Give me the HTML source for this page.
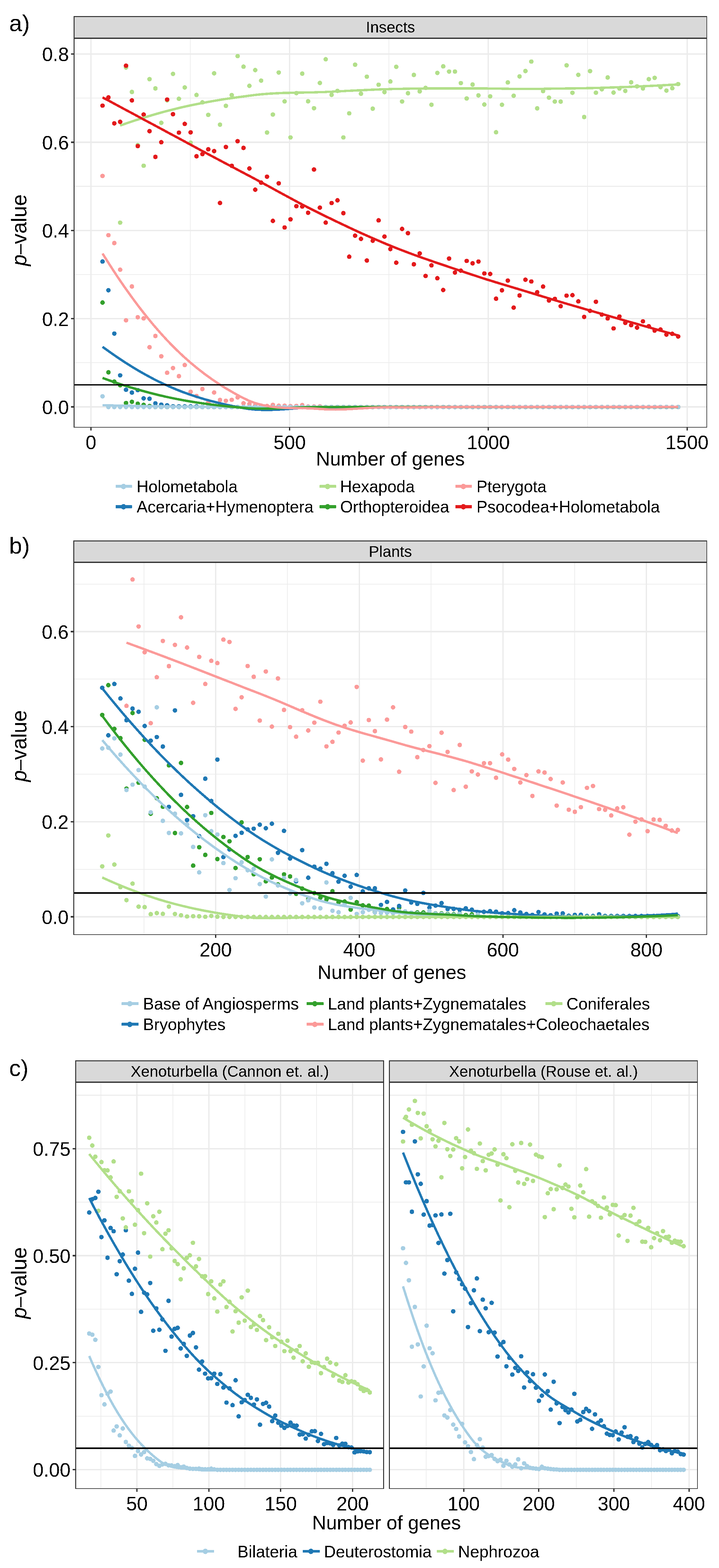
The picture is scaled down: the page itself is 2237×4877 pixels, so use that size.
<!DOCTYPE html>
<html lang="en"><head><meta charset="utf-8"><title>Figure</title>
<style>
html,body{margin:0;padding:0;background:#fff}
svg{display:block}
text{font-family:"Liberation Sans", sans-serif;fill:#000}
</style></head>
<body>
<svg xmlns="http://www.w3.org/2000/svg" width="2237" height="4877" viewBox="0 0 2237 4877" shape-rendering="crispEdges">
<defs><filter id="crisp" x="-5%" y="-5%" width="110%" height="110%" color-interpolation-filters="sRGB"><feComponentTransfer><feFuncA type="discrete" tableValues="0 1"/></feComponentTransfer></filter></defs>
<rect width="2237" height="4877" fill="#fff"/>
<rect x="229.10" y="50.00" width="1970.90" height="70.55" fill="#333333"/>
<rect x="231.90" y="52.60" width="1966.10" height="64.45" fill="#D9D9D9"/>
<rect x="229.10" y="117.05" width="1970.90" height="1212.85" fill="#333333"/>
<rect x="231.90" y="120.55" width="1966.10" height="1207.15" fill="#FFFFFF"/>
<clipPath id="clip_a"><rect x="231.90" y="120.55" width="1966.10" height="1207.15"/></clipPath>
<g clip-path="url(#clip_a)">
<rect x="231.90" y="1127.21" width="1966.10" height="2.20" fill="#EBEBEB"/>
<rect x="231.90" y="852.84" width="1966.10" height="2.20" fill="#EBEBEB"/>
<rect x="231.90" y="578.46" width="1966.10" height="2.20" fill="#EBEBEB"/>
<rect x="231.90" y="304.09" width="1966.10" height="2.20" fill="#EBEBEB"/>
<rect x="591.08" y="120.55" width="2.00" height="1207.15" fill="#EBEBEB"/>
<rect x="1209.25" y="120.55" width="2.00" height="1207.15" fill="#EBEBEB"/>
<rect x="1827.42" y="120.55" width="2.00" height="1207.15" fill="#EBEBEB"/>
<rect x="231.90" y="1263.30" width="1966.10" height="4.40" fill="#EBEBEB"/>
<rect x="231.90" y="988.92" width="1966.10" height="4.40" fill="#EBEBEB"/>
<rect x="231.90" y="714.55" width="1966.10" height="4.40" fill="#EBEBEB"/>
<rect x="231.90" y="440.18" width="1966.10" height="4.40" fill="#EBEBEB"/>
<rect x="231.90" y="165.80" width="1966.10" height="4.40" fill="#EBEBEB"/>
<rect x="281.00" y="120.55" width="4.00" height="1207.15" fill="#EBEBEB"/>
<rect x="899.17" y="120.55" width="4.00" height="1207.15" fill="#EBEBEB"/>
<rect x="1517.33" y="120.55" width="4.00" height="1207.15" fill="#EBEBEB"/>
<rect x="2135.50" y="120.55" width="4.00" height="1207.15" fill="#EBEBEB"/>
<g filter="url(#crisp)" shape-rendering="geometricPrecision">
<g fill="#B2DF8A"><circle cx="373.8" cy="692.5" r="7.05"/><circle cx="392.1" cy="210.1" r="7.05"/><circle cx="410.4" cy="285.9" r="7.05"/><circle cx="428.6" cy="451.2" r="7.05"/><circle cx="446.9" cy="515.5" r="7.05"/><circle cx="465.2" cy="246.3" r="7.05"/><circle cx="483.5" cy="275.1" r="7.05"/><circle cx="501.8" cy="382.0" r="7.05"/><circle cx="520.0" cy="311.9" r="7.05"/><circle cx="538.3" cy="229.7" r="7.05"/><circle cx="556.6" cy="307.2" r="7.05"/><circle cx="574.8" cy="272.0" r="7.05"/><circle cx="593.1" cy="443.7" r="7.05"/><circle cx="611.4" cy="295.4" r="7.05"/><circle cx="629.7" cy="318.4" r="7.05"/><circle cx="648.0" cy="357.3" r="7.05"/><circle cx="666.2" cy="228.0" r="7.05"/><circle cx="684.5" cy="387.7" r="7.05"/><circle cx="702.8" cy="329.2" r="7.05"/><circle cx="721.0" cy="295.7" r="7.05"/><circle cx="739.3" cy="174.5" r="7.05"/><circle cx="757.6" cy="207.4" r="7.05"/><circle cx="775.9" cy="266.9" r="7.05"/><circle cx="794.1" cy="217.9" r="7.05"/><circle cx="812.4" cy="250.7" r="7.05"/><circle cx="830.7" cy="412.2" r="7.05"/><circle cx="849.0" cy="356.3" r="7.05"/><circle cx="867.2" cy="225.6" r="7.05"/><circle cx="885.5" cy="315.3" r="7.05"/><circle cx="903.8" cy="427.5" r="7.05"/><circle cx="922.1" cy="289.6" r="7.05"/><circle cx="940.3" cy="229.0" r="7.05"/><circle cx="958.6" cy="315.0" r="7.05"/><circle cx="976.9" cy="336.6" r="7.05"/><circle cx="995.2" cy="258.1" r="7.05"/><circle cx="1013.4" cy="184.4" r="7.05"/><circle cx="1031.7" cy="295.0" r="7.05"/><circle cx="1050.0" cy="282.8" r="7.05"/><circle cx="1068.3" cy="427.5" r="7.05"/><circle cx="1086.5" cy="352.5" r="7.05"/><circle cx="1104.8" cy="201.3" r="7.05"/><circle cx="1123.1" cy="291.6" r="7.05"/><circle cx="1141.4" cy="238.5" r="7.05"/><circle cx="1159.7" cy="338.0" r="7.05"/><circle cx="1177.9" cy="263.5" r="7.05"/><circle cx="1196.2" cy="286.6" r="7.05"/><circle cx="1214.5" cy="253.4" r="7.05"/><circle cx="1232.8" cy="207.7" r="7.05"/><circle cx="1251.0" cy="315.7" r="7.05"/><circle cx="1269.3" cy="289.9" r="7.05"/><circle cx="1287.6" cy="233.1" r="7.05"/><circle cx="1305.8" cy="284.2" r="7.05"/><circle cx="1324.1" cy="273.4" r="7.05"/><circle cx="1342.4" cy="325.8" r="7.05"/><circle cx="1360.7" cy="226.7" r="7.05"/><circle cx="1378.9" cy="206.4" r="7.05"/><circle cx="1397.2" cy="222.6" r="7.05"/><circle cx="1415.5" cy="222.6" r="7.05"/><circle cx="1433.8" cy="258.5" r="7.05"/><circle cx="1452.0" cy="306.2" r="7.05"/><circle cx="1470.3" cy="262.9" r="7.05"/><circle cx="1488.6" cy="296.7" r="7.05"/><circle cx="1506.9" cy="325.1" r="7.05"/><circle cx="1525.1" cy="299.8" r="7.05"/><circle cx="1543.4" cy="411.4" r="7.05"/><circle cx="1561.7" cy="325.8" r="7.05"/><circle cx="1580.0" cy="256.4" r="7.05"/><circle cx="1598.2" cy="297.7" r="7.05"/><circle cx="1616.5" cy="237.8" r="7.05"/><circle cx="1634.8" cy="220.9" r="7.05"/><circle cx="1653.1" cy="191.5" r="7.05"/><circle cx="1671.3" cy="337.0" r="7.05"/><circle cx="1689.6" cy="283.5" r="7.05"/><circle cx="1707.9" cy="303.8" r="7.05"/><circle cx="1726.2" cy="315.7" r="7.05"/><circle cx="1744.4" cy="316.0" r="7.05"/><circle cx="1762.7" cy="203.3" r="7.05"/><circle cx="1781.0" cy="288.6" r="7.05"/><circle cx="1799.3" cy="232.8" r="7.05"/><circle cx="1817.5" cy="364.1" r="7.05"/><circle cx="1835.8" cy="221.2" r="7.05"/><circle cx="1854.1" cy="288.3" r="7.05"/><circle cx="1872.4" cy="277.8" r="7.05"/><circle cx="1890.6" cy="240.9" r="7.05"/><circle cx="1908.9" cy="287.9" r="7.05"/><circle cx="1927.2" cy="275.4" r="7.05"/><circle cx="1945.5" cy="282.8" r="7.05"/><circle cx="1963.7" cy="256.1" r="7.05"/><circle cx="1982.0" cy="268.6" r="7.05"/><circle cx="2000.3" cy="275.1" r="7.05"/><circle cx="2018.6" cy="246.3" r="7.05"/><circle cx="2036.8" cy="242.2" r="7.05"/><circle cx="2055.1" cy="271.0" r="7.05"/><circle cx="2073.4" cy="281.8" r="7.05"/><circle cx="2091.7" cy="274.4" r="7.05"/><circle cx="2109.9" cy="261.5" r="7.05"/></g>
<g fill="#1F78B4"><circle cx="319.0" cy="813.4" r="7.05"/><circle cx="337.3" cy="902.7" r="7.05"/><circle cx="355.6" cy="1037.6" r="7.05"/><circle cx="373.8" cy="1167.5" r="7.05"/><circle cx="392.1" cy="1212.2" r="7.05"/><circle cx="410.4" cy="1221.0" r="7.05"/><circle cx="428.6" cy="1213.5" r="7.05"/><circle cx="446.9" cy="1239.1" r="7.05"/><circle cx="465.2" cy="1240.2" r="7.05"/><circle cx="483.5" cy="1254.6" r="7.05"/><circle cx="501.8" cy="1258.5" r="7.05"/><circle cx="520.0" cy="1260.8" r="7.05"/><circle cx="538.3" cy="1263.9" r="7.05"/><circle cx="556.6" cy="1264.1" r="7.05"/><circle cx="574.8" cy="1264.1" r="7.05"/><circle cx="593.1" cy="1264.1" r="7.05"/><circle cx="611.4" cy="1264.1" r="7.05"/><circle cx="629.7" cy="1266.1" r="7.05"/><circle cx="648.0" cy="1266.1" r="7.05"/><circle cx="666.2" cy="1266.1" r="7.05"/><circle cx="684.5" cy="1266.1" r="7.05"/><circle cx="702.8" cy="1266.1" r="7.05"/><circle cx="721.0" cy="1266.1" r="7.05"/><circle cx="739.3" cy="1266.1" r="7.05"/><circle cx="757.6" cy="1266.1" r="7.05"/><circle cx="775.9" cy="1266.1" r="7.05"/><circle cx="794.1" cy="1266.1" r="7.05"/><circle cx="812.4" cy="1266.1" r="7.05"/><circle cx="830.7" cy="1266.1" r="7.05"/><circle cx="849.0" cy="1266.1" r="7.05"/><circle cx="867.2" cy="1266.1" r="7.05"/><circle cx="885.5" cy="1266.1" r="7.05"/><circle cx="903.8" cy="1266.1" r="7.05"/><circle cx="922.1" cy="1266.1" r="7.05"/><circle cx="940.3" cy="1266.1" r="7.05"/><circle cx="958.6" cy="1266.1" r="7.05"/><circle cx="976.9" cy="1266.1" r="7.05"/><circle cx="995.2" cy="1266.1" r="7.05"/><circle cx="1013.4" cy="1266.1" r="7.05"/><circle cx="1031.7" cy="1266.1" r="7.05"/><circle cx="1050.0" cy="1266.1" r="7.05"/><circle cx="1068.3" cy="1266.1" r="7.05"/><circle cx="1086.5" cy="1266.1" r="7.05"/><circle cx="1104.8" cy="1266.1" r="7.05"/><circle cx="1123.1" cy="1266.1" r="7.05"/><circle cx="1141.4" cy="1266.1" r="7.05"/><circle cx="1159.7" cy="1266.1" r="7.05"/><circle cx="1177.9" cy="1266.1" r="7.05"/><circle cx="1196.2" cy="1266.1" r="7.05"/><circle cx="1214.5" cy="1266.1" r="7.05"/><circle cx="1232.8" cy="1266.1" r="7.05"/><circle cx="1251.0" cy="1266.1" r="7.05"/><circle cx="1269.3" cy="1266.1" r="7.05"/><circle cx="1287.6" cy="1266.1" r="7.05"/><circle cx="1305.8" cy="1266.1" r="7.05"/><circle cx="1324.1" cy="1266.1" r="7.05"/><circle cx="1342.4" cy="1266.1" r="7.05"/><circle cx="1360.7" cy="1266.1" r="7.05"/><circle cx="1378.9" cy="1266.1" r="7.05"/><circle cx="1397.2" cy="1266.1" r="7.05"/><circle cx="1415.5" cy="1266.1" r="7.05"/><circle cx="1433.8" cy="1266.1" r="7.05"/><circle cx="1452.0" cy="1266.1" r="7.05"/><circle cx="1470.3" cy="1266.1" r="7.05"/><circle cx="1488.6" cy="1266.1" r="7.05"/><circle cx="1506.9" cy="1266.1" r="7.05"/><circle cx="1525.1" cy="1266.1" r="7.05"/><circle cx="1543.4" cy="1266.1" r="7.05"/><circle cx="1561.7" cy="1266.1" r="7.05"/><circle cx="1580.0" cy="1266.1" r="7.05"/><circle cx="1598.2" cy="1266.1" r="7.05"/><circle cx="1616.5" cy="1266.1" r="7.05"/><circle cx="1634.8" cy="1266.1" r="7.05"/><circle cx="1653.1" cy="1266.1" r="7.05"/><circle cx="1671.3" cy="1266.1" r="7.05"/><circle cx="1689.6" cy="1266.1" r="7.05"/><circle cx="1707.9" cy="1266.1" r="7.05"/><circle cx="1726.2" cy="1266.1" r="7.05"/><circle cx="1744.4" cy="1266.1" r="7.05"/><circle cx="1762.7" cy="1266.1" r="7.05"/><circle cx="1781.0" cy="1266.1" r="7.05"/><circle cx="1799.3" cy="1266.1" r="7.05"/><circle cx="1817.5" cy="1266.1" r="7.05"/><circle cx="1835.8" cy="1266.1" r="7.05"/><circle cx="1854.1" cy="1266.1" r="7.05"/><circle cx="1872.4" cy="1266.1" r="7.05"/><circle cx="1890.6" cy="1266.1" r="7.05"/><circle cx="1908.9" cy="1266.1" r="7.05"/><circle cx="1927.2" cy="1266.1" r="7.05"/><circle cx="1945.5" cy="1266.1" r="7.05"/><circle cx="1963.7" cy="1266.1" r="7.05"/><circle cx="1982.0" cy="1266.1" r="7.05"/><circle cx="2000.3" cy="1266.1" r="7.05"/><circle cx="2018.6" cy="1266.1" r="7.05"/><circle cx="2036.8" cy="1266.1" r="7.05"/><circle cx="2055.1" cy="1266.1" r="7.05"/><circle cx="2073.4" cy="1266.1" r="7.05"/><circle cx="2091.7" cy="1266.1" r="7.05"/><circle cx="2109.9" cy="1266.1" r="7.05"/></g>
<g fill="#33A02C"><circle cx="319.0" cy="941.0" r="7.05"/><circle cx="337.3" cy="1158.0" r="7.05"/><circle cx="355.6" cy="1187.1" r="7.05"/><circle cx="373.8" cy="1198.3" r="7.05"/><circle cx="392.1" cy="1253.5" r="7.05"/><circle cx="410.4" cy="1249.7" r="7.05"/><circle cx="428.6" cy="1255.8" r="7.05"/><circle cx="446.9" cy="1259.3" r="7.05"/><circle cx="465.2" cy="1262.8" r="7.05"/><circle cx="483.5" cy="1266.1" r="7.05"/><circle cx="501.8" cy="1266.1" r="7.05"/><circle cx="520.0" cy="1266.1" r="7.05"/><circle cx="538.3" cy="1266.1" r="7.05"/><circle cx="556.6" cy="1266.1" r="7.05"/><circle cx="574.8" cy="1266.1" r="7.05"/><circle cx="593.1" cy="1266.1" r="7.05"/><circle cx="611.4" cy="1266.1" r="7.05"/><circle cx="629.7" cy="1266.1" r="7.05"/><circle cx="648.0" cy="1266.1" r="7.05"/><circle cx="666.2" cy="1266.1" r="7.05"/><circle cx="684.5" cy="1266.1" r="7.05"/><circle cx="702.8" cy="1266.1" r="7.05"/><circle cx="721.0" cy="1266.1" r="7.05"/><circle cx="739.3" cy="1266.1" r="7.05"/><circle cx="757.6" cy="1266.1" r="7.05"/><circle cx="775.9" cy="1266.1" r="7.05"/><circle cx="794.1" cy="1266.1" r="7.05"/><circle cx="812.4" cy="1266.1" r="7.05"/><circle cx="830.7" cy="1266.1" r="7.05"/><circle cx="849.0" cy="1266.1" r="7.05"/><circle cx="867.2" cy="1266.1" r="7.05"/><circle cx="885.5" cy="1266.1" r="7.05"/><circle cx="903.8" cy="1266.1" r="7.05"/><circle cx="922.1" cy="1266.1" r="7.05"/><circle cx="940.3" cy="1266.1" r="7.05"/><circle cx="958.6" cy="1266.1" r="7.05"/><circle cx="976.9" cy="1266.1" r="7.05"/><circle cx="995.2" cy="1266.1" r="7.05"/><circle cx="1013.4" cy="1266.1" r="7.05"/><circle cx="1031.7" cy="1266.1" r="7.05"/><circle cx="1050.0" cy="1266.1" r="7.05"/><circle cx="1068.3" cy="1266.1" r="7.05"/><circle cx="1086.5" cy="1266.1" r="7.05"/><circle cx="1104.8" cy="1266.1" r="7.05"/><circle cx="1123.1" cy="1266.1" r="7.05"/><circle cx="1141.4" cy="1266.1" r="7.05"/><circle cx="1159.7" cy="1266.1" r="7.05"/><circle cx="1177.9" cy="1266.1" r="7.05"/><circle cx="1196.2" cy="1266.1" r="7.05"/><circle cx="1214.5" cy="1266.1" r="7.05"/><circle cx="1232.8" cy="1266.1" r="7.05"/><circle cx="1251.0" cy="1266.1" r="7.05"/><circle cx="1269.3" cy="1266.1" r="7.05"/><circle cx="1287.6" cy="1266.1" r="7.05"/><circle cx="1305.8" cy="1266.1" r="7.05"/><circle cx="1324.1" cy="1266.1" r="7.05"/><circle cx="1342.4" cy="1266.1" r="7.05"/><circle cx="1360.7" cy="1266.1" r="7.05"/><circle cx="1378.9" cy="1266.1" r="7.05"/><circle cx="1397.2" cy="1266.1" r="7.05"/><circle cx="1415.5" cy="1266.1" r="7.05"/><circle cx="1433.8" cy="1266.1" r="7.05"/><circle cx="1452.0" cy="1266.1" r="7.05"/><circle cx="1470.3" cy="1266.1" r="7.05"/><circle cx="1488.6" cy="1266.1" r="7.05"/><circle cx="1506.9" cy="1266.1" r="7.05"/><circle cx="1525.1" cy="1266.1" r="7.05"/><circle cx="1543.4" cy="1266.1" r="7.05"/><circle cx="1561.7" cy="1266.1" r="7.05"/><circle cx="1580.0" cy="1266.1" r="7.05"/><circle cx="1598.2" cy="1266.1" r="7.05"/><circle cx="1616.5" cy="1266.1" r="7.05"/><circle cx="1634.8" cy="1266.1" r="7.05"/><circle cx="1653.1" cy="1266.1" r="7.05"/><circle cx="1671.3" cy="1266.1" r="7.05"/><circle cx="1689.6" cy="1266.1" r="7.05"/><circle cx="1707.9" cy="1266.1" r="7.05"/><circle cx="1726.2" cy="1266.1" r="7.05"/><circle cx="1744.4" cy="1266.1" r="7.05"/><circle cx="1762.7" cy="1266.1" r="7.05"/><circle cx="1781.0" cy="1266.1" r="7.05"/><circle cx="1799.3" cy="1266.1" r="7.05"/><circle cx="1817.5" cy="1266.1" r="7.05"/><circle cx="1835.8" cy="1266.1" r="7.05"/><circle cx="1854.1" cy="1266.1" r="7.05"/><circle cx="1872.4" cy="1266.1" r="7.05"/><circle cx="1890.6" cy="1266.1" r="7.05"/><circle cx="1908.9" cy="1266.1" r="7.05"/><circle cx="1927.2" cy="1266.1" r="7.05"/><circle cx="1945.5" cy="1266.1" r="7.05"/><circle cx="1963.7" cy="1266.1" r="7.05"/><circle cx="1982.0" cy="1266.1" r="7.05"/><circle cx="2000.3" cy="1266.1" r="7.05"/><circle cx="2018.6" cy="1266.1" r="7.05"/><circle cx="2036.8" cy="1266.1" r="7.05"/><circle cx="2055.1" cy="1266.1" r="7.05"/><circle cx="2073.4" cy="1266.1" r="7.05"/><circle cx="2091.7" cy="1266.1" r="7.05"/><circle cx="2109.9" cy="1266.1" r="7.05"/></g>
<g fill="#FB9A99"><circle cx="319.0" cy="547.3" r="7.05"/><circle cx="337.3" cy="731.5" r="7.05"/><circle cx="355.6" cy="755.9" r="7.05"/><circle cx="373.8" cy="838.8" r="7.05"/><circle cx="392.1" cy="996.3" r="7.05"/><circle cx="410.4" cy="890.9" r="7.05"/><circle cx="428.6" cy="986.8" r="7.05"/><circle cx="446.9" cy="990.2" r="7.05"/><circle cx="465.2" cy="1079.9" r="7.05"/><circle cx="483.5" cy="1045.0" r="7.05"/><circle cx="501.8" cy="1108.3" r="7.05"/><circle cx="520.0" cy="1159.4" r="7.05"/><circle cx="538.3" cy="1144.8" r="7.05"/><circle cx="556.6" cy="1169.9" r="7.05"/><circle cx="574.8" cy="1135.4" r="7.05"/><circle cx="593.1" cy="1218.5" r="7.05"/><circle cx="611.4" cy="1231.6" r="7.05"/><circle cx="629.7" cy="1209.9" r="7.05"/><circle cx="648.0" cy="1251.6" r="7.05"/><circle cx="666.2" cy="1220.8" r="7.05"/><circle cx="684.5" cy="1244.1" r="7.05"/><circle cx="702.8" cy="1246.6" r="7.05"/><circle cx="721.0" cy="1243.5" r="7.05"/><circle cx="739.3" cy="1235.9" r="7.05"/><circle cx="757.6" cy="1254.2" r="7.05"/><circle cx="775.9" cy="1256.7" r="7.05"/><circle cx="794.1" cy="1260.8" r="7.05"/><circle cx="812.4" cy="1261.8" r="7.05"/><circle cx="830.7" cy="1262.6" r="7.05"/><circle cx="849.0" cy="1259.3" r="7.05"/><circle cx="867.2" cy="1262.1" r="7.05"/><circle cx="885.5" cy="1262.1" r="7.05"/><circle cx="903.8" cy="1263.3" r="7.05"/><circle cx="922.1" cy="1262.6" r="7.05"/><circle cx="940.3" cy="1260.0" r="7.05"/><circle cx="958.6" cy="1264.4" r="7.05"/><circle cx="976.9" cy="1264.4" r="7.05"/><circle cx="995.2" cy="1263.9" r="7.05"/><circle cx="1013.4" cy="1266.1" r="7.05"/><circle cx="1031.7" cy="1266.1" r="7.05"/><circle cx="1050.0" cy="1266.1" r="7.05"/><circle cx="1068.3" cy="1266.1" r="7.05"/><circle cx="1086.5" cy="1266.1" r="7.05"/><circle cx="1104.8" cy="1266.1" r="7.05"/><circle cx="1123.1" cy="1266.1" r="7.05"/><circle cx="1141.4" cy="1266.1" r="7.05"/><circle cx="1159.7" cy="1266.1" r="7.05"/><circle cx="1177.9" cy="1266.1" r="7.05"/><circle cx="1196.2" cy="1266.1" r="7.05"/><circle cx="1214.5" cy="1266.1" r="7.05"/><circle cx="1232.8" cy="1266.1" r="7.05"/><circle cx="1251.0" cy="1266.1" r="7.05"/><circle cx="1269.3" cy="1266.1" r="7.05"/><circle cx="1287.6" cy="1266.1" r="7.05"/><circle cx="1305.8" cy="1266.1" r="7.05"/><circle cx="1324.1" cy="1266.1" r="7.05"/><circle cx="1342.4" cy="1266.1" r="7.05"/><circle cx="1360.7" cy="1266.1" r="7.05"/><circle cx="1378.9" cy="1266.1" r="7.05"/><circle cx="1397.2" cy="1266.1" r="7.05"/><circle cx="1415.5" cy="1266.1" r="7.05"/><circle cx="1433.8" cy="1266.1" r="7.05"/><circle cx="1452.0" cy="1266.1" r="7.05"/><circle cx="1470.3" cy="1266.1" r="7.05"/><circle cx="1488.6" cy="1266.1" r="7.05"/><circle cx="1506.9" cy="1266.1" r="7.05"/><circle cx="1525.1" cy="1266.1" r="7.05"/><circle cx="1543.4" cy="1266.1" r="7.05"/><circle cx="1561.7" cy="1266.1" r="7.05"/><circle cx="1580.0" cy="1266.1" r="7.05"/><circle cx="1598.2" cy="1266.1" r="7.05"/><circle cx="1616.5" cy="1266.1" r="7.05"/><circle cx="1634.8" cy="1266.1" r="7.05"/><circle cx="1653.1" cy="1266.1" r="7.05"/><circle cx="1671.3" cy="1266.1" r="7.05"/><circle cx="1689.6" cy="1266.1" r="7.05"/><circle cx="1707.9" cy="1266.1" r="7.05"/><circle cx="1726.2" cy="1266.1" r="7.05"/><circle cx="1744.4" cy="1266.1" r="7.05"/><circle cx="1762.7" cy="1266.1" r="7.05"/><circle cx="1781.0" cy="1266.1" r="7.05"/><circle cx="1799.3" cy="1266.1" r="7.05"/><circle cx="1817.5" cy="1266.1" r="7.05"/><circle cx="1835.8" cy="1266.1" r="7.05"/><circle cx="1854.1" cy="1266.1" r="7.05"/><circle cx="1872.4" cy="1266.1" r="7.05"/><circle cx="1890.6" cy="1266.1" r="7.05"/><circle cx="1908.9" cy="1266.1" r="7.05"/><circle cx="1927.2" cy="1266.1" r="7.05"/><circle cx="1945.5" cy="1266.1" r="7.05"/><circle cx="1963.7" cy="1266.1" r="7.05"/><circle cx="1982.0" cy="1266.1" r="7.05"/><circle cx="2000.3" cy="1266.1" r="7.05"/><circle cx="2018.6" cy="1266.1" r="7.05"/><circle cx="2036.8" cy="1266.1" r="7.05"/><circle cx="2055.1" cy="1266.1" r="7.05"/><circle cx="2073.4" cy="1266.1" r="7.05"/><circle cx="2091.7" cy="1266.1" r="7.05"/><circle cx="2109.9" cy="1266.1" r="7.05"/></g>
<g fill="#E31A1C"><circle cx="319.0" cy="328.5" r="7.05"/><circle cx="337.3" cy="303.1" r="7.05"/><circle cx="355.6" cy="383.7" r="7.05"/><circle cx="373.8" cy="378.9" r="7.05"/><circle cx="392.1" cy="204.3" r="7.05"/><circle cx="410.4" cy="312.3" r="7.05"/><circle cx="428.6" cy="454.5" r="7.05"/><circle cx="446.9" cy="356.3" r="7.05"/><circle cx="465.2" cy="407.9" r="7.05"/><circle cx="483.5" cy="488.0" r="7.05"/><circle cx="501.8" cy="442.4" r="7.05"/><circle cx="520.0" cy="309.6" r="7.05"/><circle cx="538.3" cy="355.3" r="7.05"/><circle cx="556.6" cy="412.5" r="7.05"/><circle cx="574.8" cy="385.4" r="7.05"/><circle cx="593.1" cy="411.7" r="7.05"/><circle cx="611.4" cy="486.0" r="7.05"/><circle cx="629.7" cy="479.2" r="7.05"/><circle cx="648.0" cy="464.4" r="7.05"/><circle cx="666.2" cy="470.1" r="7.05"/><circle cx="684.5" cy="631.2" r="7.05"/><circle cx="702.8" cy="457.3" r="7.05"/><circle cx="721.0" cy="515.5" r="7.05"/><circle cx="739.3" cy="439.3" r="7.05"/><circle cx="757.6" cy="460.0" r="7.05"/><circle cx="775.9" cy="523.9" r="7.05"/><circle cx="794.1" cy="589.9" r="7.05"/><circle cx="812.4" cy="567.9" r="7.05"/><circle cx="830.7" cy="549.6" r="7.05"/><circle cx="849.0" cy="687.1" r="7.05"/><circle cx="867.2" cy="570.3" r="7.05"/><circle cx="885.5" cy="707.5" r="7.05"/><circle cx="903.8" cy="682.3" r="7.05"/><circle cx="922.1" cy="641.3" r="7.05"/><circle cx="940.3" cy="642.4" r="7.05"/><circle cx="958.6" cy="661.7" r="7.05"/><circle cx="976.9" cy="527.3" r="7.05"/><circle cx="995.2" cy="645.7" r="7.05"/><circle cx="1013.4" cy="692.4" r="7.05"/><circle cx="1031.7" cy="631.5" r="7.05"/><circle cx="1050.0" cy="623.1" r="7.05"/><circle cx="1068.3" cy="662.9" r="7.05"/><circle cx="1086.5" cy="798.4" r="7.05"/><circle cx="1104.8" cy="733.1" r="7.05"/><circle cx="1123.1" cy="742.9" r="7.05"/><circle cx="1141.4" cy="810.3" r="7.05"/><circle cx="1159.7" cy="748.7" r="7.05"/><circle cx="1177.9" cy="685.4" r="7.05"/><circle cx="1196.2" cy="735.8" r="7.05"/><circle cx="1214.5" cy="774.7" r="7.05"/><circle cx="1232.8" cy="817.0" r="7.05"/><circle cx="1251.0" cy="712.1" r="7.05"/><circle cx="1269.3" cy="725.3" r="7.05"/><circle cx="1287.6" cy="822.1" r="7.05"/><circle cx="1305.8" cy="788.3" r="7.05"/><circle cx="1324.1" cy="858.3" r="7.05"/><circle cx="1342.4" cy="825.2" r="7.05"/><circle cx="1360.7" cy="865.4" r="7.05"/><circle cx="1378.9" cy="902.0" r="7.05"/><circle cx="1397.2" cy="804.2" r="7.05"/><circle cx="1415.5" cy="847.8" r="7.05"/><circle cx="1433.8" cy="841.7" r="7.05"/><circle cx="1452.0" cy="811.5" r="7.05"/><circle cx="1470.3" cy="819.0" r="7.05"/><circle cx="1488.6" cy="813.6" r="7.05"/><circle cx="1506.9" cy="850.5" r="7.05"/><circle cx="1525.1" cy="852.1" r="7.05"/><circle cx="1543.4" cy="929.0" r="7.05"/><circle cx="1561.7" cy="902.9" r="7.05"/><circle cx="1580.0" cy="872.8" r="7.05"/><circle cx="1598.2" cy="956.7" r="7.05"/><circle cx="1616.5" cy="919.1" r="7.05"/><circle cx="1634.8" cy="870.1" r="7.05"/><circle cx="1653.1" cy="875.5" r="7.05"/><circle cx="1671.3" cy="909.0" r="7.05"/><circle cx="1689.6" cy="891.4" r="7.05"/><circle cx="1707.9" cy="934.7" r="7.05"/><circle cx="1726.2" cy="929.6" r="7.05"/><circle cx="1744.4" cy="952.3" r="7.05"/><circle cx="1762.7" cy="919.5" r="7.05"/><circle cx="1781.0" cy="918.1" r="7.05"/><circle cx="1799.3" cy="937.4" r="7.05"/><circle cx="1817.5" cy="985.8" r="7.05"/><circle cx="1835.8" cy="966.7" r="7.05"/><circle cx="1854.1" cy="938.6" r="7.05"/><circle cx="1872.4" cy="978.5" r="7.05"/><circle cx="1890.6" cy="990.4" r="7.05"/><circle cx="1908.9" cy="1021.5" r="7.05"/><circle cx="1927.2" cy="984.6" r="7.05"/><circle cx="1945.5" cy="1004.3" r="7.05"/><circle cx="1963.7" cy="1011.4" r="7.05"/><circle cx="1982.0" cy="1019.1" r="7.05"/><circle cx="2000.3" cy="999.5" r="7.05"/><circle cx="2018.6" cy="1014.7" r="7.05"/><circle cx="2036.8" cy="1028.3" r="7.05"/><circle cx="2055.1" cy="1024.9" r="7.05"/><circle cx="2073.4" cy="1040.8" r="7.05"/><circle cx="2091.7" cy="1038.4" r="7.05"/><circle cx="2109.9" cy="1046.6" r="7.05"/></g>
<g fill="#A6CEE3"><circle cx="319.0" cy="1232.8" r="7.05"/><circle cx="337.3" cy="1266.1" r="7.05"/><circle cx="355.6" cy="1266.1" r="7.05"/><circle cx="373.8" cy="1266.1" r="7.05"/><circle cx="392.1" cy="1266.1" r="7.05"/><circle cx="410.4" cy="1266.1" r="7.05"/><circle cx="428.6" cy="1266.1" r="7.05"/><circle cx="446.9" cy="1266.1" r="7.05"/><circle cx="465.2" cy="1266.1" r="7.05"/><circle cx="483.5" cy="1266.1" r="7.05"/><circle cx="501.8" cy="1266.1" r="7.05"/><circle cx="520.0" cy="1266.1" r="7.05"/><circle cx="538.3" cy="1266.1" r="7.05"/><circle cx="556.6" cy="1266.1" r="7.05"/><circle cx="574.8" cy="1266.1" r="7.05"/><circle cx="593.1" cy="1266.1" r="7.05"/><circle cx="611.4" cy="1266.1" r="7.05"/><circle cx="629.7" cy="1266.1" r="7.05"/><circle cx="648.0" cy="1266.1" r="7.05"/><circle cx="666.2" cy="1266.1" r="7.05"/><circle cx="684.5" cy="1266.1" r="7.05"/><circle cx="702.8" cy="1266.1" r="7.05"/><circle cx="721.0" cy="1266.1" r="7.05"/><circle cx="739.3" cy="1266.1" r="7.05"/><circle cx="757.6" cy="1266.1" r="7.05"/><circle cx="775.9" cy="1266.1" r="7.05"/><circle cx="794.1" cy="1266.1" r="7.05"/><circle cx="812.4" cy="1266.1" r="7.05"/><circle cx="830.7" cy="1266.1" r="7.05"/><circle cx="849.0" cy="1266.1" r="7.05"/><circle cx="867.2" cy="1266.1" r="7.05"/><circle cx="885.5" cy="1266.1" r="7.05"/><circle cx="903.8" cy="1266.1" r="7.05"/><circle cx="922.1" cy="1266.1" r="7.05"/><circle cx="940.3" cy="1266.1" r="7.05"/><circle cx="958.6" cy="1266.1" r="7.05"/><circle cx="976.9" cy="1266.1" r="7.05"/><circle cx="995.2" cy="1266.1" r="7.05"/><circle cx="1013.4" cy="1266.1" r="7.05"/><circle cx="1031.7" cy="1266.1" r="7.05"/><circle cx="1050.0" cy="1266.1" r="7.05"/><circle cx="1068.3" cy="1266.1" r="7.05"/><circle cx="1086.5" cy="1266.1" r="7.05"/><circle cx="1104.8" cy="1266.1" r="7.05"/><circle cx="1123.1" cy="1266.1" r="7.05"/><circle cx="1141.4" cy="1266.1" r="7.05"/><circle cx="1159.7" cy="1266.1" r="7.05"/><circle cx="1177.9" cy="1266.1" r="7.05"/><circle cx="1196.2" cy="1266.1" r="7.05"/><circle cx="1214.5" cy="1266.1" r="7.05"/><circle cx="1232.8" cy="1266.1" r="7.05"/><circle cx="1251.0" cy="1266.1" r="7.05"/><circle cx="1269.3" cy="1266.1" r="7.05"/><circle cx="1287.6" cy="1266.1" r="7.05"/><circle cx="1305.8" cy="1266.1" r="7.05"/><circle cx="1324.1" cy="1266.1" r="7.05"/><circle cx="1342.4" cy="1266.1" r="7.05"/><circle cx="1360.7" cy="1266.1" r="7.05"/><circle cx="1378.9" cy="1266.1" r="7.05"/><circle cx="1397.2" cy="1266.1" r="7.05"/><circle cx="1415.5" cy="1266.1" r="7.05"/><circle cx="1433.8" cy="1266.1" r="7.05"/><circle cx="1452.0" cy="1266.1" r="7.05"/><circle cx="1470.3" cy="1266.1" r="7.05"/><circle cx="1488.6" cy="1266.1" r="7.05"/><circle cx="1506.9" cy="1266.1" r="7.05"/><circle cx="1525.1" cy="1266.1" r="7.05"/><circle cx="1543.4" cy="1266.1" r="7.05"/><circle cx="1561.7" cy="1266.1" r="7.05"/><circle cx="1580.0" cy="1266.1" r="7.05"/><circle cx="1598.2" cy="1266.1" r="7.05"/><circle cx="1616.5" cy="1266.1" r="7.05"/><circle cx="1634.8" cy="1266.1" r="7.05"/><circle cx="1653.1" cy="1266.1" r="7.05"/><circle cx="1671.3" cy="1266.1" r="7.05"/><circle cx="1689.6" cy="1266.1" r="7.05"/><circle cx="1707.9" cy="1266.1" r="7.05"/><circle cx="1726.2" cy="1266.1" r="7.05"/><circle cx="1744.4" cy="1266.1" r="7.05"/><circle cx="1762.7" cy="1266.1" r="7.05"/><circle cx="1781.0" cy="1266.1" r="7.05"/><circle cx="1799.3" cy="1266.1" r="7.05"/><circle cx="1817.5" cy="1266.1" r="7.05"/><circle cx="1835.8" cy="1266.1" r="7.05"/><circle cx="1854.1" cy="1266.1" r="7.05"/><circle cx="1872.4" cy="1266.1" r="7.05"/><circle cx="1890.6" cy="1266.1" r="7.05"/><circle cx="1908.9" cy="1266.1" r="7.05"/><circle cx="1927.2" cy="1266.1" r="7.05"/><circle cx="1945.5" cy="1266.1" r="7.05"/><circle cx="1963.7" cy="1266.1" r="7.05"/><circle cx="1982.0" cy="1266.1" r="7.05"/><circle cx="2000.3" cy="1266.1" r="7.05"/><circle cx="2018.6" cy="1266.1" r="7.05"/><circle cx="2036.8" cy="1266.1" r="7.05"/><circle cx="2055.1" cy="1266.1" r="7.05"/><circle cx="2073.4" cy="1266.1" r="7.05"/><circle cx="2091.7" cy="1266.1" r="7.05"/><circle cx="2109.9" cy="1266.1" r="7.05"/></g>
<polyline fill="none" stroke="#A6CEE3" stroke-width="7.4" stroke-linejoin="round" points="319.0,1260.5 341.7,1261.0 364.3,1261.4 387.0,1261.9 409.7,1262.3 432.3,1262.7 455.0,1263.1 477.7,1263.4 500.4,1263.8 523.0,1264.1 545.7,1264.3 568.4,1264.6 591.0,1264.8 613.7,1265.0 636.4,1265.2 659.0,1265.4 681.7,1265.5 704.4,1265.7 727.1,1265.8 749.7,1265.9 772.4,1266.0 795.1,1266.0 817.7,1266.1 840.4,1266.0 863.1,1266.0 885.7,1265.9 908.4,1265.9 931.1,1265.8 953.7,1265.7 976.4,1265.7 999.1,1265.7 1021.8,1265.7 1044.4,1265.7 1067.1,1265.7 1089.8,1265.7 1112.4,1265.7 1135.1,1265.7 1157.8,1265.7 1180.4,1265.7 1203.1,1265.7 1225.8,1265.7 1248.5,1265.7 1271.1,1265.7 1293.8,1265.7 1316.5,1265.7 1339.1,1265.7 1361.8,1265.7 1384.5,1265.7 1407.1,1265.7 1429.8,1265.7 1452.5,1265.7 1475.2,1265.7 1497.8,1265.7 1520.5,1265.7 1543.2,1265.7 1565.8,1265.7 1588.5,1265.7 1611.2,1265.7 1633.8,1265.7 1656.5,1265.7 1679.2,1265.7 1701.8,1265.7 1724.5,1265.7 1747.2,1265.7 1769.9,1265.7 1792.5,1265.7 1815.2,1265.7 1837.9,1265.7 1860.5,1265.7 1883.2,1265.7 1905.9,1265.7 1928.5,1265.7 1951.2,1265.7 1973.9,1265.7 1996.6,1265.7 2019.2,1265.7 2041.9,1265.7 2064.6,1265.7 2087.2,1265.7 2109.9,1265.7"/>
<polyline fill="none" stroke="#1F78B4" stroke-width="7.4" stroke-linejoin="round" points="319.0,1078.7 341.7,1095.1 364.3,1110.8 387.0,1125.9 409.7,1140.2 432.3,1153.8 455.0,1166.6 477.7,1178.7 500.4,1190.0 523.0,1200.5 545.7,1210.2 568.4,1219.2 591.0,1227.3 613.7,1234.8 636.4,1241.7 659.0,1247.9 681.7,1253.6 704.4,1258.8 727.1,1263.6 749.7,1268.0 772.4,1271.8 795.1,1274.1 817.7,1275.1 840.4,1275.0 863.1,1274.2 885.7,1272.8 908.4,1271.1 931.1,1269.4 953.7,1267.9 976.4,1267.0 999.1,1266.7 1021.8,1266.8 1044.4,1266.7 1067.1,1266.6 1089.8,1266.5 1112.4,1266.3 1135.1,1266.1 1157.8,1265.9 1180.4,1265.8 1203.1,1265.7 1225.8,1265.7 1248.5,1265.7 1271.1,1265.7 1293.8,1265.7 1316.5,1265.7 1339.1,1265.7 1361.8,1265.7 1384.5,1265.7 1407.1,1265.7 1429.8,1265.7 1452.5,1265.7 1475.2,1265.7 1497.8,1265.7 1520.5,1265.7 1543.2,1265.7 1565.8,1265.7 1588.5,1265.7 1611.2,1265.7 1633.8,1265.7 1656.5,1265.7 1679.2,1265.7 1701.8,1265.7 1724.5,1265.7 1747.2,1265.7 1769.9,1265.7 1792.5,1265.7 1815.2,1265.7 1837.9,1265.7 1860.5,1265.7 1883.2,1265.7 1905.9,1265.7 1928.5,1265.7 1951.2,1265.7 1973.9,1265.7 1996.6,1265.7 2019.2,1265.7 2041.9,1265.7 2064.6,1265.7 2087.2,1265.7 2109.9,1265.7"/>
<polyline fill="none" stroke="#B2DF8A" stroke-width="7.4" stroke-linejoin="round" points="373.8,390.5 395.8,382.8 417.8,375.4 439.7,368.3 461.7,361.6 483.7,355.1 505.7,348.9 527.6,343.1 549.6,337.6 571.6,332.4 593.6,327.6 615.5,323.1 637.5,318.8 659.5,314.9 681.5,311.2 703.4,307.7 725.4,304.5 747.4,301.4 769.4,298.5 791.3,295.7 813.3,293.3 835.3,291.5 857.3,290.2 879.2,289.3 901.2,288.7 923.2,288.2 945.2,287.9 967.2,287.5 989.1,286.9 1011.1,286.1 1033.1,285.1 1055.1,284.0 1077.0,282.9 1099.0,281.8 1121.0,280.7 1143.0,279.7 1164.9,278.7 1186.9,277.9 1208.9,277.1 1230.9,276.6 1252.8,276.1 1274.8,275.8 1296.8,275.5 1318.8,275.3 1340.7,275.1 1362.7,275.0 1384.7,275.0 1406.7,274.9 1428.6,274.9 1450.6,274.8 1472.6,274.8 1494.6,275.0 1516.5,275.2 1538.5,275.5 1560.5,275.9 1582.5,276.2 1604.5,276.4 1626.4,276.6 1648.4,276.6 1670.4,276.4 1692.4,276.2 1714.3,275.9 1736.3,275.6 1758.3,275.3 1780.3,275.0 1802.2,274.6 1824.2,274.2 1846.2,273.7 1868.2,273.2 1890.1,272.5 1912.1,271.8 1934.1,271.0 1956.1,270.2 1978.0,269.3 2000.0,268.3 2022.0,267.3 2044.0,266.2 2065.9,265.0 2087.9,263.8 2109.9,262.6"/>
<polyline fill="none" stroke="#33A02C" stroke-width="7.4" stroke-linejoin="round" points="319.0,1175.6 341.7,1183.7 364.3,1191.5 387.0,1198.9 409.7,1205.9 432.3,1212.6 455.0,1218.9 477.7,1224.8 500.4,1230.4 523.0,1235.5 545.7,1240.2 568.4,1244.6 591.0,1248.5 613.7,1252.1 636.4,1255.4 659.0,1258.3 681.7,1261.1 704.4,1263.5 727.1,1265.8 749.7,1267.8 772.4,1269.6 795.1,1270.6 817.7,1271.0 840.4,1270.8 863.1,1270.2 885.7,1269.4 908.4,1268.4 931.1,1267.4 953.7,1266.6 976.4,1266.1 999.1,1265.9 1021.8,1265.9 1044.4,1265.9 1067.1,1265.9 1089.8,1265.9 1112.4,1265.8 1135.1,1265.8 1157.8,1265.7 1180.4,1265.7 1203.1,1265.7 1225.8,1265.7 1248.5,1265.7 1271.1,1265.7 1293.8,1265.7 1316.5,1265.7 1339.1,1265.7 1361.8,1265.7 1384.5,1265.7 1407.1,1265.7 1429.8,1265.7 1452.5,1265.7 1475.2,1265.7 1497.8,1265.7 1520.5,1265.7 1543.2,1265.7 1565.8,1265.7 1588.5,1265.7 1611.2,1265.7 1633.8,1265.7 1656.5,1265.7 1679.2,1265.7 1701.8,1265.7 1724.5,1265.7 1747.2,1265.7 1769.9,1265.7 1792.5,1265.7 1815.2,1265.7 1837.9,1265.7 1860.5,1265.7 1883.2,1265.7 1905.9,1265.7 1928.5,1265.7 1951.2,1265.7 1973.9,1265.7 1996.6,1265.7 2019.2,1265.7 2041.9,1265.7 2064.6,1265.7 2087.2,1265.7 2109.9,1265.7"/>
<polyline fill="none" stroke="#FB9A99" stroke-width="7.4" stroke-linejoin="round" points="319.0,788.4 341.7,824.3 364.3,858.9 387.0,892.1 409.7,923.9 432.3,954.4 455.0,983.4 477.7,1011.0 500.4,1037.1 523.0,1061.7 545.7,1084.8 568.4,1106.4 591.0,1126.6 613.7,1145.4 636.4,1163.0 659.0,1179.3 681.7,1194.6 704.4,1208.8 727.1,1222.0 749.7,1234.4 772.4,1245.6 795.1,1254.1 817.7,1260.2 840.4,1264.4 863.1,1267.1 885.7,1268.5 908.4,1269.3 931.1,1269.6 953.7,1269.9 976.4,1270.7 999.1,1272.3 1021.8,1273.5 1044.4,1273.8 1067.1,1273.3 1089.8,1272.3 1112.4,1270.9 1135.1,1269.5 1157.8,1268.1 1180.4,1267.1 1203.1,1266.6 1225.8,1266.7 1248.5,1266.9 1271.1,1266.9 1293.8,1266.8 1316.5,1266.7 1339.1,1266.5 1361.8,1266.3 1384.5,1266.1 1407.1,1266.0 1429.8,1265.9 1452.5,1265.8 1475.2,1265.9 1497.8,1265.9 1520.5,1265.9 1543.2,1265.9 1565.8,1265.8 1588.5,1265.8 1611.2,1265.8 1633.8,1265.8 1656.5,1265.8 1679.2,1265.8 1701.8,1265.8 1724.5,1265.8 1747.2,1265.8 1769.9,1265.8 1792.5,1265.8 1815.2,1265.8 1837.9,1265.8 1860.5,1265.8 1883.2,1265.7 1905.9,1265.7 1928.5,1265.7 1951.2,1265.7 1973.9,1265.7 1996.6,1265.7 2019.2,1265.7 2041.9,1265.7 2064.6,1265.6 2087.2,1265.6 2109.9,1265.6"/>
<polyline fill="none" stroke="#E31A1C" stroke-width="7.4" stroke-linejoin="round" points="319.0,302.9 341.7,315.1 364.3,327.2 387.0,339.4 409.7,351.6 432.3,363.7 455.0,375.9 477.7,388.0 500.4,400.2 523.0,412.4 545.7,424.6 568.4,436.8 591.0,449.0 613.7,461.2 636.4,473.4 659.0,485.5 681.7,497.6 704.4,509.6 727.1,521.6 749.7,533.5 772.4,545.4 795.1,557.5 817.7,569.7 840.4,582.1 863.1,594.4 885.7,606.8 908.4,619.1 931.1,631.2 953.7,643.0 976.4,654.6 999.1,665.9 1021.8,676.9 1044.4,687.9 1067.1,698.7 1089.8,709.3 1112.4,719.8 1135.1,730.1 1157.8,740.1 1180.4,749.9 1203.1,759.5 1225.8,768.7 1248.5,777.6 1271.1,786.2 1293.8,794.6 1316.5,802.7 1339.1,810.6 1361.8,818.4 1384.5,826.1 1407.1,833.8 1429.8,841.4 1452.5,849.1 1475.2,856.6 1497.8,863.9 1520.5,871.1 1543.2,878.1 1565.8,885.0 1588.5,891.8 1611.2,898.6 1633.8,905.5 1656.5,912.4 1679.2,919.4 1701.8,926.3 1724.5,933.2 1747.2,940.0 1769.9,946.7 1792.5,953.3 1815.2,959.9 1837.9,966.5 1860.5,973.0 1883.2,979.5 1905.9,986.0 1928.5,992.5 1951.2,999.0 1973.9,1005.4 1996.6,1011.9 2019.2,1018.3 2041.9,1024.6 2064.6,1031.0 2087.2,1037.3 2109.9,1043.6"/>
</g>
<rect x="231.90" y="1194.56" width="1966.10" height="4.70" fill="#000000"/>
</g>
<rect x="281.00" y="1329.90" width="4.00" height="9.00" fill="#333333"/>
<rect x="899.17" y="1329.90" width="4.00" height="9.00" fill="#333333"/>
<rect x="1517.33" y="1329.90" width="4.00" height="9.00" fill="#333333"/>
<rect x="2135.50" y="1329.90" width="4.00" height="9.00" fill="#333333"/>
<rect x="221.00" y="1263.30" width="8.10" height="4.40" fill="#333333"/>
<rect x="221.00" y="988.92" width="8.10" height="4.40" fill="#333333"/>
<rect x="221.00" y="714.55" width="8.10" height="4.40" fill="#333333"/>
<rect x="221.00" y="440.18" width="8.10" height="4.40" fill="#333333"/>
<rect x="221.00" y="165.80" width="8.10" height="4.40" fill="#333333"/>
<g filter="url(#crisp)" shape-rendering="geometricPrecision">
<rect x="359.60" y="1508.40" width="51.00" height="9.00" fill="#A6CEE3"/>
<ellipse cx="384.30" cy="1513.20" rx="7.9" ry="8.5" fill="#A6CEE3"/>
</g>
<g filter="url(#crisp)" shape-rendering="geometricPrecision">
<rect x="359.60" y="1571.50" width="51.00" height="9.00" fill="#1F78B4"/>
<ellipse cx="384.30" cy="1576.30" rx="7.9" ry="8.5" fill="#1F78B4"/>
</g>
<g filter="url(#crisp)" shape-rendering="geometricPrecision">
<rect x="994.50" y="1508.40" width="51.00" height="9.00" fill="#B2DF8A"/>
<ellipse cx="1019.20" cy="1513.20" rx="7.9" ry="8.5" fill="#B2DF8A"/>
</g>
<g filter="url(#crisp)" shape-rendering="geometricPrecision">
<rect x="994.50" y="1571.50" width="51.00" height="9.00" fill="#33A02C"/>
<ellipse cx="1019.20" cy="1576.30" rx="7.9" ry="8.5" fill="#33A02C"/>
</g>
<g filter="url(#crisp)" shape-rendering="geometricPrecision">
<rect x="1417.00" y="1508.40" width="51.00" height="9.00" fill="#FB9A99"/>
<ellipse cx="1441.70" cy="1513.20" rx="7.9" ry="8.5" fill="#FB9A99"/>
</g>
<g filter="url(#crisp)" shape-rendering="geometricPrecision">
<rect x="1417.00" y="1571.50" width="51.00" height="9.00" fill="#E31A1C"/>
<ellipse cx="1441.70" cy="1576.30" rx="7.9" ry="8.5" fill="#E31A1C"/>
</g>
<g filter="url(#crisp)">
<text x="28.60" y="96.80" font-size="72" text-anchor="start" >a)</text>
<text transform="translate(1215.05,101.40) scale(0.985,1)" font-size="49" text-anchor="middle" >Insects</text>
<text transform="translate(283.00,1396.50) scale(0.97,1)" font-size="62" text-anchor="middle" >0</text>
<text transform="translate(901.17,1396.50) scale(0.97,1)" font-size="62" text-anchor="middle" >500</text>
<text transform="translate(1519.33,1396.50) scale(0.97,1)" font-size="62" text-anchor="middle" >1000</text>
<text transform="translate(2137.50,1396.50) scale(0.97,1)" font-size="62" text-anchor="middle" >1500</text>
<text transform="translate(214.50,1287.90) scale(0.97,1)" font-size="62" text-anchor="end" >0.0</text>
<text transform="translate(214.50,1013.52) scale(0.97,1)" font-size="62" text-anchor="end" >0.2</text>
<text transform="translate(214.50,739.15) scale(0.97,1)" font-size="62" text-anchor="end" >0.4</text>
<text transform="translate(214.50,464.77) scale(0.97,1)" font-size="62" text-anchor="end" >0.6</text>
<text transform="translate(214.50,190.40) scale(0.97,1)" font-size="62" text-anchor="end" >0.8</text>
<text transform="translate(82.20,715.90) rotate(-90) scale(0.98,1)" font-size="66" text-anchor="middle"><tspan font-style="italic">p</tspan><tspan textLength="33" lengthAdjust="spacingAndGlyphs">–</tspan><tspan>value</tspan></text>
<text transform="translate(1214.60,1448.00) scale(0.989,1)" font-size="61" text-anchor="middle" >Number of genes</text>
<text x="425.20" y="1531.20" font-size="50.9" text-anchor="start" >Holometabola</text>
<text x="425.20" y="1594.30" font-size="50.9" text-anchor="start" >Acercaria+Hymenoptera</text>
<text x="1058.20" y="1531.20" font-size="50.9" text-anchor="start" >Hexapoda</text>
<text x="1058.20" y="1594.30" font-size="50.9" text-anchor="start" >Orthopteroidea</text>
<text x="1482.60" y="1531.20" font-size="50.9" text-anchor="start" >Pterygota</text>
<text x="1482.60" y="1594.30" font-size="50.9" text-anchor="start" >Psocodea+Holometabola</text>
</g>
<rect x="228.10" y="1681.00" width="1972.00" height="69.65" fill="#333333"/>
<rect x="230.90" y="1683.60" width="1967.20" height="63.55" fill="#D9D9D9"/>
<rect x="228.10" y="1747.15" width="1972.00" height="1160.85" fill="#333333"/>
<rect x="230.90" y="1750.65" width="1967.20" height="1155.15" fill="#FFFFFF"/>
<clipPath id="clip_b"><rect x="230.90" y="1750.65" width="1967.20" height="1155.15"/></clipPath>
<g clip-path="url(#clip_b)">
<rect x="230.90" y="2702.57" width="1967.20" height="2.20" fill="#EBEBEB"/>
<rect x="230.90" y="2406.90" width="1967.20" height="2.20" fill="#EBEBEB"/>
<rect x="230.90" y="2111.23" width="1967.20" height="2.20" fill="#EBEBEB"/>
<rect x="230.90" y="1815.57" width="1967.20" height="2.20" fill="#EBEBEB"/>
<rect x="446.73" y="1750.65" width="2.00" height="1155.15" fill="#EBEBEB"/>
<rect x="893.47" y="1750.65" width="2.00" height="1155.15" fill="#EBEBEB"/>
<rect x="1340.20" y="1750.65" width="2.00" height="1155.15" fill="#EBEBEB"/>
<rect x="1786.93" y="1750.65" width="2.00" height="1155.15" fill="#EBEBEB"/>
<rect x="230.90" y="2849.30" width="1967.20" height="4.40" fill="#EBEBEB"/>
<rect x="230.90" y="2553.63" width="1967.20" height="4.40" fill="#EBEBEB"/>
<rect x="230.90" y="2257.97" width="1967.20" height="4.40" fill="#EBEBEB"/>
<rect x="230.90" y="1962.30" width="1967.20" height="4.40" fill="#EBEBEB"/>
<rect x="669.10" y="1750.65" width="4.00" height="1155.15" fill="#EBEBEB"/>
<rect x="1115.83" y="1750.65" width="4.00" height="1155.15" fill="#EBEBEB"/>
<rect x="1562.57" y="1750.65" width="4.00" height="1155.15" fill="#EBEBEB"/>
<rect x="2009.30" y="1750.65" width="4.00" height="1155.15" fill="#EBEBEB"/>
<g filter="url(#crisp)" shape-rendering="geometricPrecision">
<g fill="#FB9A99"><circle cx="393.5" cy="2195.4" r="7.05"/><circle cx="412.4" cy="1802.4" r="7.05"/><circle cx="431.2" cy="1948.6" r="7.05"/><circle cx="450.1" cy="2028.8" r="7.05"/><circle cx="468.9" cy="2249.2" r="7.05"/><circle cx="487.8" cy="2106.4" r="7.05"/><circle cx="506.6" cy="1993.6" r="7.05"/><circle cx="525.5" cy="2071.9" r="7.05"/><circle cx="544.3" cy="2005.7" r="7.05"/><circle cx="563.2" cy="1920.1" r="7.05"/><circle cx="582.0" cy="2013.9" r="7.05"/><circle cx="600.9" cy="2185.9" r="7.05"/><circle cx="619.7" cy="2043.2" r="7.05"/><circle cx="638.6" cy="2127.4" r="7.05"/><circle cx="657.4" cy="2055.4" r="7.05"/><circle cx="676.3" cy="2062.4" r="7.05"/><circle cx="695.1" cy="1989.4" r="7.05"/><circle cx="714.0" cy="1996.8" r="7.05"/><circle cx="732.8" cy="2204.8" r="7.05"/><circle cx="751.7" cy="2168.8" r="7.05"/><circle cx="770.5" cy="2071.6" r="7.05"/><circle cx="789.4" cy="2105.1" r="7.05"/><circle cx="808.2" cy="2241.3" r="7.05"/><circle cx="827.1" cy="2088.6" r="7.05"/><circle cx="845.9" cy="2259.9" r="7.05"/><circle cx="864.8" cy="2110.2" r="7.05"/><circle cx="883.6" cy="2208.1" r="7.05"/><circle cx="902.5" cy="2261.6" r="7.05"/><circle cx="921.3" cy="2291.4" r="7.05"/><circle cx="940.2" cy="2209.2" r="7.05"/><circle cx="959.0" cy="2272.1" r="7.05"/><circle cx="977.9" cy="2247.7" r="7.05"/><circle cx="996.7" cy="2182.5" r="7.05"/><circle cx="1015.6" cy="2321.5" r="7.05"/><circle cx="1034.4" cy="2307.3" r="7.05"/><circle cx="1053.3" cy="2278.5" r="7.05"/><circle cx="1072.1" cy="2257.2" r="7.05"/><circle cx="1091.0" cy="2247.1" r="7.05"/><circle cx="1109.8" cy="2136.6" r="7.05"/><circle cx="1128.7" cy="2365.8" r="7.05"/><circle cx="1147.5" cy="2239.6" r="7.05"/><circle cx="1166.4" cy="2274.1" r="7.05"/><circle cx="1185.2" cy="2362.1" r="7.05"/><circle cx="1204.1" cy="2238.3" r="7.05"/><circle cx="1222.9" cy="2200.0" r="7.05"/><circle cx="1241.8" cy="2400.4" r="7.05"/><circle cx="1260.7" cy="2261.3" r="7.05"/><circle cx="1279.5" cy="2275.5" r="7.05"/><circle cx="1298.4" cy="2355.0" r="7.05"/><circle cx="1317.2" cy="2332.7" r="7.05"/><circle cx="1336.1" cy="2320.8" r="7.05"/><circle cx="1354.9" cy="2434.9" r="7.05"/><circle cx="1373.8" cy="2278.9" r="7.05"/><circle cx="1392.6" cy="2338.8" r="7.05"/><circle cx="1411.5" cy="2457.2" r="7.05"/><circle cx="1430.3" cy="2317.0" r="7.05"/><circle cx="1449.2" cy="2446.9" r="7.05"/><circle cx="1468.0" cy="2399.2" r="7.05"/><circle cx="1486.9" cy="2409.0" r="7.05"/><circle cx="1505.7" cy="2373.8" r="7.05"/><circle cx="1524.6" cy="2373.8" r="7.05"/><circle cx="1543.4" cy="2419.1" r="7.05"/><circle cx="1562.3" cy="2346.4" r="7.05"/><circle cx="1581.1" cy="2362.6" r="7.05"/><circle cx="1600.0" cy="2391.7" r="7.05"/><circle cx="1618.8" cy="2433.7" r="7.05"/><circle cx="1637.7" cy="2410.7" r="7.05"/><circle cx="1656.5" cy="2475.7" r="7.05"/><circle cx="1675.4" cy="2399.2" r="7.05"/><circle cx="1694.2" cy="2402.9" r="7.05"/><circle cx="1713.1" cy="2422.9" r="7.05"/><circle cx="1731.9" cy="2505.8" r="7.05"/><circle cx="1750.8" cy="2433.7" r="7.05"/><circle cx="1769.6" cy="2518.6" r="7.05"/><circle cx="1788.5" cy="2525.1" r="7.05"/><circle cx="1807.3" cy="2510.5" r="7.05"/><circle cx="1826.2" cy="2450.5" r="7.05"/><circle cx="1845.0" cy="2444.7" r="7.05"/><circle cx="1863.9" cy="2516.5" r="7.05"/><circle cx="1882.7" cy="2518.8" r="7.05"/><circle cx="1901.6" cy="2536.4" r="7.05"/><circle cx="1920.4" cy="2514.4" r="7.05"/><circle cx="1939.3" cy="2510.7" r="7.05"/><circle cx="1958.1" cy="2596.0" r="7.05"/><circle cx="1977.0" cy="2555.7" r="7.05"/><circle cx="1995.8" cy="2548.6" r="7.05"/><circle cx="2014.7" cy="2585.2" r="7.05"/><circle cx="2033.5" cy="2549.0" r="7.05"/><circle cx="2052.4" cy="2550.0" r="7.05"/><circle cx="2071.2" cy="2568.6" r="7.05"/><circle cx="2090.1" cy="2583.1" r="7.05"/><circle cx="2108.9" cy="2581.4" r="7.05"/></g>
<g fill="#33A02C"><circle cx="318.1" cy="2223.8" r="7.05"/><circle cx="337.0" cy="2131.1" r="7.05"/><circle cx="355.8" cy="2267.1" r="7.05"/><circle cx="374.7" cy="2295.9" r="7.05"/><circle cx="393.5" cy="2453.1" r="7.05"/><circle cx="412.4" cy="2217.7" r="7.05"/><circle cx="431.2" cy="2434.4" r="7.05"/><circle cx="450.1" cy="2301.0" r="7.05"/><circle cx="468.9" cy="2530.9" r="7.05"/><circle cx="487.8" cy="2482.8" r="7.05"/><circle cx="506.6" cy="2509.2" r="7.05"/><circle cx="525.5" cy="2380.6" r="7.05"/><circle cx="544.3" cy="2591.1" r="7.05"/><circle cx="563.2" cy="2372.9" r="7.05"/><circle cx="582.0" cy="2509.9" r="7.05"/><circle cx="600.9" cy="2692.4" r="7.05"/><circle cx="619.7" cy="2635.3" r="7.05"/><circle cx="638.6" cy="2658.9" r="7.05"/><circle cx="657.4" cy="2528.5" r="7.05"/><circle cx="676.3" cy="2672.0" r="7.05"/><circle cx="695.1" cy="2603.2" r="7.05"/><circle cx="714.0" cy="2616.7" r="7.05"/><circle cx="732.8" cy="2699.7" r="7.05"/><circle cx="751.7" cy="2557.9" r="7.05"/><circle cx="770.5" cy="2665.8" r="7.05"/><circle cx="789.4" cy="2719.3" r="7.05"/><circle cx="808.2" cy="2672.6" r="7.05"/><circle cx="827.1" cy="2741.3" r="7.05"/><circle cx="845.9" cy="2729.4" r="7.05"/><circle cx="864.8" cy="2750.8" r="7.05"/><circle cx="883.6" cy="2719.6" r="7.05"/><circle cx="902.5" cy="2726.1" r="7.05"/><circle cx="921.3" cy="2780.1" r="7.05"/><circle cx="940.2" cy="2763.9" r="7.05"/><circle cx="959.0" cy="2796.4" r="7.05"/><circle cx="977.9" cy="2777.8" r="7.05"/><circle cx="996.7" cy="2792.3" r="7.05"/><circle cx="1015.6" cy="2798.1" r="7.05"/><circle cx="1034.4" cy="2772.0" r="7.05"/><circle cx="1053.3" cy="2806.4" r="7.05"/><circle cx="1072.1" cy="2804.0" r="7.05"/><circle cx="1091.0" cy="2829.2" r="7.05"/><circle cx="1109.8" cy="2806.1" r="7.05"/><circle cx="1128.7" cy="2815.9" r="7.05"/><circle cx="1147.5" cy="2816.8" r="7.05"/><circle cx="1166.4" cy="2837.2" r="7.05"/><circle cx="1185.2" cy="2829.7" r="7.05"/><circle cx="1204.1" cy="2827.4" r="7.05"/><circle cx="1222.9" cy="2835.4" r="7.05"/><circle cx="1241.8" cy="2823.0" r="7.05"/><circle cx="1260.7" cy="2838.1" r="7.05"/><circle cx="1279.5" cy="2839.0" r="7.05"/><circle cx="1298.4" cy="2838.1" r="7.05"/><circle cx="1317.2" cy="2838.1" r="7.05"/><circle cx="1336.1" cy="2841.6" r="7.05"/><circle cx="1354.9" cy="2840.8" r="7.05"/><circle cx="1373.8" cy="2840.8" r="7.05"/><circle cx="1392.6" cy="2842.5" r="7.05"/><circle cx="1411.5" cy="2843.4" r="7.05"/><circle cx="1430.3" cy="2841.6" r="7.05"/><circle cx="1449.2" cy="2846.3" r="7.05"/><circle cx="1468.0" cy="2843.9" r="7.05"/><circle cx="1486.9" cy="2851.6" r="7.05"/><circle cx="1505.7" cy="2851.6" r="7.05"/><circle cx="1524.6" cy="2851.6" r="7.05"/><circle cx="1543.4" cy="2851.6" r="7.05"/><circle cx="1562.3" cy="2851.6" r="7.05"/><circle cx="1581.1" cy="2851.6" r="7.05"/><circle cx="1600.0" cy="2851.6" r="7.05"/><circle cx="1618.8" cy="2851.6" r="7.05"/><circle cx="1637.7" cy="2851.6" r="7.05"/><circle cx="1656.5" cy="2851.6" r="7.05"/><circle cx="1675.4" cy="2851.6" r="7.05"/><circle cx="1694.2" cy="2851.6" r="7.05"/><circle cx="1713.1" cy="2851.6" r="7.05"/><circle cx="1731.9" cy="2851.6" r="7.05"/><circle cx="1750.8" cy="2851.6" r="7.05"/><circle cx="1769.6" cy="2851.6" r="7.05"/><circle cx="1788.5" cy="2851.6" r="7.05"/><circle cx="1807.3" cy="2851.6" r="7.05"/><circle cx="1826.2" cy="2851.6" r="7.05"/><circle cx="1845.0" cy="2851.6" r="7.05"/><circle cx="1863.9" cy="2851.6" r="7.05"/><circle cx="1882.7" cy="2851.6" r="7.05"/><circle cx="1901.6" cy="2851.6" r="7.05"/><circle cx="1920.4" cy="2851.6" r="7.05"/><circle cx="1939.3" cy="2851.6" r="7.05"/><circle cx="1958.1" cy="2851.6" r="7.05"/><circle cx="1977.0" cy="2851.6" r="7.05"/><circle cx="1995.8" cy="2851.6" r="7.05"/><circle cx="2014.7" cy="2851.6" r="7.05"/><circle cx="2033.5" cy="2851.6" r="7.05"/><circle cx="2052.4" cy="2851.6" r="7.05"/><circle cx="2071.2" cy="2851.6" r="7.05"/><circle cx="2090.1" cy="2851.6" r="7.05"/><circle cx="2108.9" cy="2851.6" r="7.05"/></g>
<g fill="#1F78B4"><circle cx="318.1" cy="2139.2" r="7.05"/><circle cx="337.0" cy="2287.1" r="7.05"/><circle cx="355.8" cy="2127.4" r="7.05"/><circle cx="374.7" cy="2172.4" r="7.05"/><circle cx="393.5" cy="2240.1" r="7.05"/><circle cx="412.4" cy="2203.9" r="7.05"/><circle cx="431.2" cy="2213.7" r="7.05"/><circle cx="450.1" cy="2258.0" r="7.05"/><circle cx="468.9" cy="2303.7" r="7.05"/><circle cx="487.8" cy="2292.5" r="7.05"/><circle cx="506.6" cy="2322.0" r="7.05"/><circle cx="525.5" cy="2509.6" r="7.05"/><circle cx="544.3" cy="2209.6" r="7.05"/><circle cx="563.2" cy="2472.3" r="7.05"/><circle cx="582.0" cy="2550.5" r="7.05"/><circle cx="600.9" cy="2538.7" r="7.05"/><circle cx="619.7" cy="2600.6" r="7.05"/><circle cx="638.6" cy="2421.9" r="7.05"/><circle cx="657.4" cy="2491.3" r="7.05"/><circle cx="676.3" cy="2362.6" r="7.05"/><circle cx="695.1" cy="2665.8" r="7.05"/><circle cx="714.0" cy="2642.1" r="7.05"/><circle cx="732.8" cy="2599.8" r="7.05"/><circle cx="751.7" cy="2590.3" r="7.05"/><circle cx="770.5" cy="2579.5" r="7.05"/><circle cx="789.4" cy="2577.5" r="7.05"/><circle cx="808.2" cy="2565.0" r="7.05"/><circle cx="827.1" cy="2576.1" r="7.05"/><circle cx="845.9" cy="2561.9" r="7.05"/><circle cx="864.8" cy="2652.6" r="7.05"/><circle cx="883.6" cy="2584.3" r="7.05"/><circle cx="902.5" cy="2670.2" r="7.05"/><circle cx="921.3" cy="2741.3" r="7.05"/><circle cx="940.2" cy="2644.2" r="7.05"/><circle cx="959.0" cy="2730.1" r="7.05"/><circle cx="977.9" cy="2695.6" r="7.05"/><circle cx="996.7" cy="2701.7" r="7.05"/><circle cx="1015.6" cy="2686.8" r="7.05"/><circle cx="1034.4" cy="2716.0" r="7.05"/><circle cx="1053.3" cy="2742.2" r="7.05"/><circle cx="1072.1" cy="2723.9" r="7.05"/><circle cx="1091.0" cy="2758.1" r="7.05"/><circle cx="1109.8" cy="2721.4" r="7.05"/><circle cx="1128.7" cy="2772.4" r="7.05"/><circle cx="1147.5" cy="2762.9" r="7.05"/><circle cx="1166.4" cy="2762.9" r="7.05"/><circle cx="1185.2" cy="2814.5" r="7.05"/><circle cx="1204.1" cy="2805.2" r="7.05"/><circle cx="1222.9" cy="2828.7" r="7.05"/><circle cx="1241.8" cy="2817.7" r="7.05"/><circle cx="1260.7" cy="2769.7" r="7.05"/><circle cx="1279.5" cy="2807.0" r="7.05"/><circle cx="1298.4" cy="2811.4" r="7.05"/><circle cx="1317.2" cy="2777.2" r="7.05"/><circle cx="1336.1" cy="2823.0" r="7.05"/><circle cx="1354.9" cy="2816.8" r="7.05"/><circle cx="1373.8" cy="2808.8" r="7.05"/><circle cx="1392.6" cy="2827.4" r="7.05"/><circle cx="1411.5" cy="2826.9" r="7.05"/><circle cx="1430.3" cy="2830.1" r="7.05"/><circle cx="1449.2" cy="2825.3" r="7.05"/><circle cx="1468.0" cy="2829.4" r="7.05"/><circle cx="1486.9" cy="2837.2" r="7.05"/><circle cx="1505.7" cy="2836.1" r="7.05"/><circle cx="1524.6" cy="2834.1" r="7.05"/><circle cx="1543.4" cy="2835.5" r="7.05"/><circle cx="1562.3" cy="2840.5" r="7.05"/><circle cx="1581.1" cy="2839.9" r="7.05"/><circle cx="1600.0" cy="2831.1" r="7.05"/><circle cx="1618.8" cy="2838.2" r="7.05"/><circle cx="1637.7" cy="2842.9" r="7.05"/><circle cx="1656.5" cy="2845.6" r="7.05"/><circle cx="1675.4" cy="2836.8" r="7.05"/><circle cx="1694.2" cy="2844.3" r="7.05"/><circle cx="1713.1" cy="2846.6" r="7.05"/><circle cx="1731.9" cy="2841.6" r="7.05"/><circle cx="1750.8" cy="2840.9" r="7.05"/><circle cx="1769.6" cy="2848.3" r="7.05"/><circle cx="1788.5" cy="2845.6" r="7.05"/><circle cx="1807.3" cy="2845.2" r="7.05"/><circle cx="1826.2" cy="2849.0" r="7.05"/><circle cx="1845.0" cy="2849.1" r="7.05"/><circle cx="1863.9" cy="2843.7" r="7.05"/><circle cx="1882.7" cy="2849.1" r="7.05"/><circle cx="1901.6" cy="2849.1" r="7.05"/><circle cx="1920.4" cy="2849.1" r="7.05"/><circle cx="1939.3" cy="2849.1" r="7.05"/><circle cx="1958.1" cy="2849.1" r="7.05"/><circle cx="1977.0" cy="2849.1" r="7.05"/><circle cx="1995.8" cy="2849.1" r="7.05"/><circle cx="2014.7" cy="2849.1" r="7.05"/><circle cx="2033.5" cy="2849.1" r="7.05"/><circle cx="2052.4" cy="2849.1" r="7.05"/><circle cx="2071.2" cy="2849.1" r="7.05"/><circle cx="2090.1" cy="2849.1" r="7.05"/><circle cx="2108.9" cy="2849.1" r="7.05"/></g>
<g fill="#A6CEE3"><circle cx="318.1" cy="2328.0" r="7.05"/><circle cx="337.0" cy="2325.7" r="7.05"/><circle cx="355.8" cy="2296.6" r="7.05"/><circle cx="374.7" cy="2347.1" r="7.05"/><circle cx="393.5" cy="2457.1" r="7.05"/><circle cx="412.4" cy="2440.5" r="7.05"/><circle cx="431.2" cy="2395.2" r="7.05"/><circle cx="450.1" cy="2446.6" r="7.05"/><circle cx="468.9" cy="2526.8" r="7.05"/><circle cx="487.8" cy="2200.1" r="7.05"/><circle cx="506.6" cy="2552.9" r="7.05"/><circle cx="525.5" cy="2590.8" r="7.05"/><circle cx="544.3" cy="2530.9" r="7.05"/><circle cx="563.2" cy="2592.1" r="7.05"/><circle cx="582.0" cy="2564.1" r="7.05"/><circle cx="600.9" cy="2634.2" r="7.05"/><circle cx="619.7" cy="2713.4" r="7.05"/><circle cx="638.6" cy="2535.6" r="7.05"/><circle cx="657.4" cy="2585.4" r="7.05"/><circle cx="676.3" cy="2595.5" r="7.05"/><circle cx="695.1" cy="2684.4" r="7.05"/><circle cx="714.0" cy="2768.3" r="7.05"/><circle cx="732.8" cy="2731.5" r="7.05"/><circle cx="751.7" cy="2682.1" r="7.05"/><circle cx="770.5" cy="2706.8" r="7.05"/><circle cx="789.4" cy="2702.4" r="7.05"/><circle cx="808.2" cy="2749.7" r="7.05"/><circle cx="827.1" cy="2788.6" r="7.05"/><circle cx="845.9" cy="2672.9" r="7.05"/><circle cx="864.8" cy="2754.1" r="7.05"/><circle cx="883.6" cy="2731.1" r="7.05"/><circle cx="902.5" cy="2778.8" r="7.05"/><circle cx="921.3" cy="2737.2" r="7.05"/><circle cx="940.2" cy="2809.6" r="7.05"/><circle cx="959.0" cy="2800.4" r="7.05"/><circle cx="977.9" cy="2822.8" r="7.05"/><circle cx="996.7" cy="2825.1" r="7.05"/><circle cx="1015.6" cy="2744.7" r="7.05"/><circle cx="1034.4" cy="2832.8" r="7.05"/><circle cx="1053.3" cy="2837.4" r="7.05"/><circle cx="1072.1" cy="2811.4" r="7.05"/><circle cx="1091.0" cy="2792.8" r="7.05"/><circle cx="1109.8" cy="2842.5" r="7.05"/><circle cx="1128.7" cy="2837.2" r="7.05"/><circle cx="1147.5" cy="2829.7" r="7.05"/><circle cx="1166.4" cy="2838.1" r="7.05"/><circle cx="1185.2" cy="2839.9" r="7.05"/><circle cx="1204.1" cy="2839.0" r="7.05"/><circle cx="1222.9" cy="2840.8" r="7.05"/><circle cx="1241.8" cy="2833.3" r="7.05"/><circle cx="1260.7" cy="2834.5" r="7.05"/><circle cx="1279.5" cy="2838.6" r="7.05"/><circle cx="1298.4" cy="2840.8" r="7.05"/><circle cx="1317.2" cy="2842.5" r="7.05"/><circle cx="1336.1" cy="2833.6" r="7.05"/><circle cx="1354.9" cy="2841.6" r="7.05"/><circle cx="1373.8" cy="2842.5" r="7.05"/><circle cx="1392.6" cy="2844.3" r="7.05"/><circle cx="1411.5" cy="2845.2" r="7.05"/><circle cx="1430.3" cy="2842.5" r="7.05"/><circle cx="1449.2" cy="2849.7" r="7.05"/><circle cx="1468.0" cy="2849.0" r="7.05"/><circle cx="1486.9" cy="2844.3" r="7.05"/><circle cx="1505.7" cy="2852.1" r="7.05"/><circle cx="1524.6" cy="2852.1" r="7.05"/><circle cx="1543.4" cy="2852.1" r="7.05"/><circle cx="1562.3" cy="2852.1" r="7.05"/><circle cx="1581.1" cy="2852.1" r="7.05"/><circle cx="1600.0" cy="2852.1" r="7.05"/><circle cx="1618.8" cy="2852.1" r="7.05"/><circle cx="1637.7" cy="2852.1" r="7.05"/><circle cx="1656.5" cy="2852.1" r="7.05"/><circle cx="1675.4" cy="2852.1" r="7.05"/><circle cx="1694.2" cy="2852.1" r="7.05"/><circle cx="1713.1" cy="2852.1" r="7.05"/><circle cx="1731.9" cy="2852.1" r="7.05"/><circle cx="1750.8" cy="2852.1" r="7.05"/><circle cx="1769.6" cy="2852.1" r="7.05"/><circle cx="1788.5" cy="2852.1" r="7.05"/><circle cx="1807.3" cy="2852.1" r="7.05"/><circle cx="1826.2" cy="2852.1" r="7.05"/><circle cx="1845.0" cy="2852.1" r="7.05"/><circle cx="1863.9" cy="2852.1" r="7.05"/><circle cx="1882.7" cy="2852.1" r="7.05"/><circle cx="1901.6" cy="2852.1" r="7.05"/><circle cx="1920.4" cy="2852.1" r="7.05"/><circle cx="1939.3" cy="2852.1" r="7.05"/><circle cx="1958.1" cy="2852.1" r="7.05"/><circle cx="1977.0" cy="2852.1" r="7.05"/><circle cx="1995.8" cy="2852.1" r="7.05"/><circle cx="2014.7" cy="2852.1" r="7.05"/><circle cx="2033.5" cy="2852.1" r="7.05"/><circle cx="2052.4" cy="2852.1" r="7.05"/><circle cx="2071.2" cy="2852.1" r="7.05"/><circle cx="2090.1" cy="2852.1" r="7.05"/><circle cx="2108.9" cy="2852.1" r="7.05"/></g>
<g fill="#B2DF8A"><circle cx="318.1" cy="2694.8" r="7.05"/><circle cx="337.0" cy="2598.6" r="7.05"/><circle cx="355.8" cy="2689.1" r="7.05"/><circle cx="374.7" cy="2759.5" r="7.05"/><circle cx="393.5" cy="2799.7" r="7.05"/><circle cx="412.4" cy="2748.3" r="7.05"/><circle cx="431.2" cy="2820.0" r="7.05"/><circle cx="450.1" cy="2821.4" r="7.05"/><circle cx="468.9" cy="2843.4" r="7.05"/><circle cx="487.8" cy="2840.0" r="7.05"/><circle cx="506.6" cy="2842.4" r="7.05"/><circle cx="525.5" cy="2819.7" r="7.05"/><circle cx="544.3" cy="2842.7" r="7.05"/><circle cx="563.2" cy="2846.8" r="7.05"/><circle cx="582.0" cy="2850.5" r="7.05"/><circle cx="600.9" cy="2849.8" r="7.05"/><circle cx="619.7" cy="2850.1" r="7.05"/><circle cx="638.6" cy="2851.5" r="7.05"/><circle cx="657.4" cy="2848.8" r="7.05"/><circle cx="676.3" cy="2851.2" r="7.05"/><circle cx="695.1" cy="2852.1" r="7.05"/><circle cx="714.0" cy="2852.1" r="7.05"/><circle cx="732.8" cy="2852.1" r="7.05"/><circle cx="751.7" cy="2852.1" r="7.05"/><circle cx="770.5" cy="2852.1" r="7.05"/><circle cx="789.4" cy="2852.1" r="7.05"/><circle cx="808.2" cy="2852.1" r="7.05"/><circle cx="827.1" cy="2852.1" r="7.05"/><circle cx="845.9" cy="2852.1" r="7.05"/><circle cx="864.8" cy="2852.1" r="7.05"/><circle cx="883.6" cy="2852.1" r="7.05"/><circle cx="902.5" cy="2852.1" r="7.05"/><circle cx="921.3" cy="2852.1" r="7.05"/><circle cx="940.2" cy="2852.1" r="7.05"/><circle cx="959.0" cy="2852.1" r="7.05"/><circle cx="977.9" cy="2852.1" r="7.05"/><circle cx="996.7" cy="2852.1" r="7.05"/><circle cx="1015.6" cy="2852.1" r="7.05"/><circle cx="1034.4" cy="2852.1" r="7.05"/><circle cx="1053.3" cy="2852.1" r="7.05"/><circle cx="1072.1" cy="2852.1" r="7.05"/><circle cx="1091.0" cy="2852.1" r="7.05"/><circle cx="1109.8" cy="2852.1" r="7.05"/><circle cx="1128.7" cy="2852.1" r="7.05"/><circle cx="1147.5" cy="2852.1" r="7.05"/><circle cx="1166.4" cy="2852.1" r="7.05"/><circle cx="1185.2" cy="2852.1" r="7.05"/><circle cx="1204.1" cy="2852.1" r="7.05"/><circle cx="1222.9" cy="2852.1" r="7.05"/><circle cx="1241.8" cy="2852.1" r="7.05"/><circle cx="1260.7" cy="2852.1" r="7.05"/><circle cx="1279.5" cy="2852.1" r="7.05"/><circle cx="1298.4" cy="2852.1" r="7.05"/><circle cx="1317.2" cy="2852.1" r="7.05"/><circle cx="1336.1" cy="2852.1" r="7.05"/><circle cx="1354.9" cy="2852.1" r="7.05"/><circle cx="1373.8" cy="2852.1" r="7.05"/><circle cx="1392.6" cy="2852.1" r="7.05"/><circle cx="1411.5" cy="2852.1" r="7.05"/><circle cx="1430.3" cy="2852.1" r="7.05"/><circle cx="1449.2" cy="2852.1" r="7.05"/><circle cx="1468.0" cy="2852.1" r="7.05"/><circle cx="1486.9" cy="2852.1" r="7.05"/><circle cx="1505.7" cy="2852.1" r="7.05"/><circle cx="1524.6" cy="2852.1" r="7.05"/><circle cx="1543.4" cy="2852.1" r="7.05"/><circle cx="1562.3" cy="2852.1" r="7.05"/><circle cx="1581.1" cy="2852.1" r="7.05"/><circle cx="1600.0" cy="2852.1" r="7.05"/><circle cx="1618.8" cy="2852.1" r="7.05"/><circle cx="1637.7" cy="2852.1" r="7.05"/><circle cx="1656.5" cy="2852.1" r="7.05"/><circle cx="1675.4" cy="2852.1" r="7.05"/><circle cx="1694.2" cy="2852.1" r="7.05"/><circle cx="1713.1" cy="2852.1" r="7.05"/><circle cx="1731.9" cy="2852.1" r="7.05"/><circle cx="1750.8" cy="2852.1" r="7.05"/><circle cx="1769.6" cy="2852.1" r="7.05"/><circle cx="1788.5" cy="2852.1" r="7.05"/><circle cx="1807.3" cy="2852.1" r="7.05"/><circle cx="1826.2" cy="2852.1" r="7.05"/><circle cx="1845.0" cy="2852.1" r="7.05"/><circle cx="1863.9" cy="2852.1" r="7.05"/><circle cx="1882.7" cy="2852.1" r="7.05"/><circle cx="1901.6" cy="2852.1" r="7.05"/><circle cx="1920.4" cy="2852.1" r="7.05"/><circle cx="1939.3" cy="2852.1" r="7.05"/><circle cx="1958.1" cy="2852.1" r="7.05"/><circle cx="1977.0" cy="2852.1" r="7.05"/><circle cx="1995.8" cy="2852.1" r="7.05"/><circle cx="2014.7" cy="2852.1" r="7.05"/><circle cx="2033.5" cy="2852.1" r="7.05"/><circle cx="2052.4" cy="2852.1" r="7.05"/><circle cx="2071.2" cy="2852.1" r="7.05"/><circle cx="2090.1" cy="2852.1" r="7.05"/><circle cx="2108.9" cy="2852.1" r="7.05"/></g>
<polyline fill="none" stroke="#A6CEE3" stroke-width="7.4" stroke-linejoin="round" points="318.1,2302.0 340.8,2328.7 363.4,2354.7 386.1,2380.1 408.8,2404.7 431.4,2428.6 454.1,2451.9 476.8,2474.4 499.4,2496.2 522.1,2517.3 544.8,2537.7 567.5,2557.4 590.1,2576.4 612.8,2594.7 635.5,2612.3 658.1,2629.3 680.8,2645.6 703.5,2661.3 726.1,2676.3 748.8,2690.7 771.5,2704.4 794.1,2717.3 816.8,2729.3 839.5,2740.6 862.1,2751.1 884.8,2761.0 907.5,2770.3 930.1,2779.1 952.8,2787.3 975.5,2795.1 998.2,2802.1 1020.8,2808.0 1043.5,2813.0 1066.2,2817.1 1088.8,2820.7 1111.5,2823.8 1134.2,2826.6 1156.8,2829.3 1179.5,2832.2 1202.2,2835.2 1224.8,2838.2 1247.5,2840.5 1270.2,2842.2 1292.8,2843.5 1315.5,2844.4 1338.2,2845.1 1360.8,2845.6 1383.5,2846.2 1406.2,2847.0 1428.8,2847.9 1451.5,2849.0 1474.2,2849.8 1496.9,2850.5 1519.5,2851.1 1542.2,2851.5 1564.9,2851.8 1587.5,2852.1 1610.2,2852.4 1632.9,2852.7 1655.5,2853.1 1678.2,2853.4 1700.9,2853.7 1723.5,2853.9 1746.2,2854.0 1768.9,2854.1 1791.5,2854.1 1814.2,2854.0 1836.9,2853.9 1859.5,2853.7 1882.2,2853.5 1904.9,2853.2 1927.6,2852.9 1950.2,2852.5 1972.9,2852.1 1995.6,2851.7 2018.2,2851.2 2040.9,2850.6 2063.6,2850.0 2086.2,2849.3 2108.9,2848.6"/>
<polyline fill="none" stroke="#1F78B4" stroke-width="7.4" stroke-linejoin="round" points="318.1,2140.9 340.8,2169.0 363.4,2196.4 386.1,2223.3 408.8,2249.5 431.4,2275.0 454.1,2299.9 476.8,2324.2 499.4,2347.8 522.1,2370.7 544.8,2393.0 567.5,2414.7 590.1,2435.7 612.8,2456.1 635.5,2475.9 658.1,2495.1 680.8,2513.8 703.5,2531.9 726.1,2549.4 748.8,2566.3 771.5,2582.6 794.1,2598.0 816.8,2612.6 839.5,2626.4 862.1,2639.6 884.8,2652.2 907.5,2664.3 930.1,2675.9 952.8,2687.1 975.5,2698.1 998.2,2708.6 1020.8,2718.5 1043.5,2727.9 1066.2,2736.8 1088.8,2745.2 1111.5,2753.2 1134.2,2760.9 1156.8,2768.2 1179.5,2775.3 1202.2,2782.2 1224.8,2788.6 1247.5,2794.5 1270.2,2799.8 1292.8,2804.6 1315.5,2809.0 1338.2,2813.1 1360.8,2816.8 1383.5,2820.4 1406.2,2823.8 1428.8,2827.2 1451.5,2830.4 1474.2,2833.1 1496.9,2835.4 1519.5,2837.4 1542.2,2839.2 1564.9,2840.7 1587.5,2842.1 1610.2,2843.5 1632.9,2844.8 1655.5,2846.2 1678.2,2847.5 1700.9,2848.6 1723.5,2849.5 1746.2,2850.2 1768.9,2850.7 1791.5,2851.1 1814.2,2851.3 1836.9,2851.4 1859.5,2851.3 1882.2,2851.1 1904.9,2850.8 1927.6,2850.3 1950.2,2849.7 1972.9,2849.0 1995.6,2848.2 2018.2,2847.2 2040.9,2846.1 2063.6,2844.8 2086.2,2843.4 2108.9,2841.8"/>
<polyline fill="none" stroke="#B2DF8A" stroke-width="7.4" stroke-linejoin="round" points="318.1,2729.4 340.8,2739.6 363.4,2749.4 386.1,2758.8 408.8,2767.8 431.4,2776.3 454.1,2784.4 476.8,2792.0 499.4,2799.1 522.1,2805.8 544.8,2812.0 567.5,2817.7 590.1,2823.0 612.8,2827.9 635.5,2832.5 658.1,2836.7 680.8,2840.6 703.5,2844.1 726.1,2847.4 748.8,2850.5 771.5,2853.0 794.1,2854.7 816.8,2855.5 839.5,2855.8 862.1,2855.6 884.8,2855.1 907.5,2854.5 930.1,2853.9 952.8,2853.5 975.5,2853.4 998.2,2853.6 1020.8,2853.5 1043.5,2853.4 1066.2,2853.2 1088.8,2852.9 1111.5,2852.6 1134.2,2852.3 1156.8,2852.0 1179.5,2851.8 1202.2,2851.7 1224.8,2851.7 1247.5,2851.7 1270.2,2851.7 1292.8,2851.7 1315.5,2851.7 1338.2,2851.7 1360.8,2851.7 1383.5,2851.7 1406.2,2851.7 1428.8,2851.7 1451.5,2851.7 1474.2,2851.7 1496.9,2851.7 1519.5,2851.7 1542.2,2851.7 1564.9,2851.7 1587.5,2851.7 1610.2,2851.7 1632.9,2851.7 1655.5,2851.7 1678.2,2851.7 1700.9,2851.7 1723.5,2851.7 1746.2,2851.7 1768.9,2851.7 1791.5,2851.7 1814.2,2851.7 1836.9,2851.7 1859.5,2851.7 1882.2,2851.7 1904.9,2851.7 1927.6,2851.7 1950.2,2851.7 1972.9,2851.7 1995.6,2851.7 2018.2,2851.7 2040.9,2851.7 2063.6,2851.7 2086.2,2851.7 2108.9,2851.7"/>
<polyline fill="none" stroke="#33A02C" stroke-width="7.4" stroke-linejoin="round" points="318.1,2226.4 340.8,2256.7 363.4,2286.2 386.1,2314.9 408.8,2342.8 431.4,2369.9 454.1,2396.1 476.8,2421.5 499.4,2446.1 522.1,2469.9 544.8,2492.7 567.5,2514.8 590.1,2536.1 612.8,2556.5 635.5,2576.2 658.1,2595.1 680.8,2613.3 703.5,2630.8 726.1,2647.6 748.8,2663.6 771.5,2678.8 794.1,2692.9 816.8,2705.9 839.5,2717.9 862.1,2729.1 884.8,2739.6 907.5,2749.5 930.1,2758.9 952.8,2767.9 975.5,2776.6 998.2,2784.7 1020.8,2791.9 1043.5,2798.2 1066.2,2803.8 1088.8,2808.8 1111.5,2813.3 1134.2,2817.6 1156.8,2821.6 1179.5,2825.6 1202.2,2829.6 1224.8,2833.3 1247.5,2836.3 1270.2,2838.5 1292.8,2840.2 1315.5,2841.5 1338.2,2842.6 1360.8,2843.5 1383.5,2844.4 1406.2,2845.4 1428.8,2846.7 1451.5,2848.1 1474.2,2849.2 1496.9,2850.2 1519.5,2850.9 1542.2,2851.5 1564.9,2852.0 1587.5,2852.4 1610.2,2852.8 1632.9,2853.2 1655.5,2853.7 1678.2,2854.1 1700.9,2854.4 1723.5,2854.6 1746.2,2854.8 1768.9,2854.8 1791.5,2854.7 1814.2,2854.6 1836.9,2854.4 1859.5,2854.1 1882.2,2853.7 1904.9,2853.3 1927.6,2852.9 1950.2,2852.3 1972.9,2851.7 1995.6,2851.0 2018.2,2850.3 2040.9,2849.5 2063.6,2848.6 2086.2,2847.6 2108.9,2846.6"/>
<polyline fill="none" stroke="#FB9A99" stroke-width="7.4" stroke-linejoin="round" points="393.5,1998.9 415.2,2006.9 436.9,2014.8 458.6,2022.9 480.4,2030.9 502.1,2039.1 523.8,2047.2 545.5,2055.5 567.2,2063.7 588.9,2072.1 610.6,2080.5 632.4,2089.0 654.1,2097.5 675.8,2106.0 697.5,2114.5 719.2,2122.9 740.9,2131.4 762.6,2139.9 784.4,2148.3 806.1,2156.6 827.8,2165.1 849.5,2173.9 871.2,2182.9 892.9,2192.2 914.6,2201.5 936.3,2210.8 958.1,2220.0 979.8,2229.0 1001.5,2237.7 1023.2,2246.0 1044.9,2253.9 1066.6,2261.3 1088.3,2268.3 1110.1,2274.9 1131.8,2281.2 1153.5,2287.3 1175.2,2293.4 1196.9,2299.4 1218.6,2305.5 1240.3,2311.7 1262.1,2318.0 1283.8,2323.9 1305.5,2329.6 1327.2,2335.2 1348.9,2340.7 1370.6,2346.2 1392.3,2351.8 1414.1,2357.6 1435.8,2363.6 1457.5,2369.8 1479.2,2376.5 1500.9,2383.2 1522.6,2390.1 1544.3,2397.1 1566.1,2404.1 1587.8,2411.2 1609.5,2418.3 1631.2,2425.4 1652.9,2432.6 1674.6,2439.7 1696.3,2446.9 1718.0,2454.1 1739.8,2461.3 1761.5,2468.6 1783.2,2475.9 1804.9,2483.2 1826.6,2490.6 1848.3,2498.1 1870.0,2505.6 1891.8,2513.1 1913.5,2520.7 1935.2,2528.3 1956.9,2536.0 1978.6,2543.7 2000.3,2551.5 2022.0,2559.3 2043.8,2567.1 2065.5,2575.0 2087.2,2583.0 2108.9,2591.0"/>
</g>
<rect x="230.90" y="2775.23" width="1967.20" height="4.70" fill="#000000"/>
</g>
<rect x="669.10" y="2908.00" width="4.00" height="9.00" fill="#333333"/>
<rect x="1115.83" y="2908.00" width="4.00" height="9.00" fill="#333333"/>
<rect x="1562.57" y="2908.00" width="4.00" height="9.00" fill="#333333"/>
<rect x="2009.30" y="2908.00" width="4.00" height="9.00" fill="#333333"/>
<rect x="220.00" y="2849.30" width="8.10" height="4.40" fill="#333333"/>
<rect x="220.00" y="2553.63" width="8.10" height="4.40" fill="#333333"/>
<rect x="220.00" y="2257.97" width="8.10" height="4.40" fill="#333333"/>
<rect x="220.00" y="1962.30" width="8.10" height="4.40" fill="#333333"/>
<g filter="url(#crisp)" shape-rendering="geometricPrecision">
<rect x="378.40" y="3117.30" width="52.50" height="9.00" fill="#A6CEE3"/>
<ellipse cx="403.85" cy="3122.10" rx="7.9" ry="8.5" fill="#A6CEE3"/>
</g>
<g filter="url(#crisp)" shape-rendering="geometricPrecision">
<rect x="378.40" y="3181.40" width="52.50" height="9.00" fill="#1F78B4"/>
<ellipse cx="403.85" cy="3186.20" rx="7.9" ry="8.5" fill="#1F78B4"/>
</g>
<g filter="url(#crisp)" shape-rendering="geometricPrecision">
<rect x="954.00" y="3117.30" width="52.50" height="9.00" fill="#33A02C"/>
<ellipse cx="979.45" cy="3122.10" rx="7.9" ry="8.5" fill="#33A02C"/>
</g>
<g filter="url(#crisp)" shape-rendering="geometricPrecision">
<rect x="954.00" y="3181.40" width="52.50" height="9.00" fill="#FB9A99"/>
<ellipse cx="979.45" cy="3186.20" rx="7.9" ry="8.5" fill="#FB9A99"/>
</g>
<g filter="url(#crisp)" shape-rendering="geometricPrecision">
<rect x="1697.20" y="3117.30" width="52.50" height="9.00" fill="#B2DF8A"/>
<ellipse cx="1722.65" cy="3122.10" rx="7.9" ry="8.5" fill="#B2DF8A"/>
</g>
<g filter="url(#crisp)">
<text x="28.60" y="1721.80" font-size="72" text-anchor="start" >b)</text>
<text transform="translate(1214.60,1731.95) scale(0.985,1)" font-size="49" text-anchor="middle" >Plants</text>
<text transform="translate(671.10,2974.60) scale(0.97,1)" font-size="62" text-anchor="middle" >200</text>
<text transform="translate(1117.83,2974.60) scale(0.97,1)" font-size="62" text-anchor="middle" >400</text>
<text transform="translate(1564.57,2974.60) scale(0.97,1)" font-size="62" text-anchor="middle" >600</text>
<text transform="translate(2011.30,2974.60) scale(0.97,1)" font-size="62" text-anchor="middle" >800</text>
<text transform="translate(213.50,2873.90) scale(0.97,1)" font-size="62" text-anchor="end" >0.0</text>
<text transform="translate(213.50,2578.23) scale(0.97,1)" font-size="62" text-anchor="end" >0.2</text>
<text transform="translate(213.50,2282.57) scale(0.97,1)" font-size="62" text-anchor="end" >0.4</text>
<text transform="translate(213.50,1986.90) scale(0.97,1)" font-size="62" text-anchor="end" >0.6</text>
<text transform="translate(82.20,2320.20) rotate(-90) scale(0.98,1)" font-size="66" text-anchor="middle"><tspan font-style="italic">p</tspan><tspan textLength="33" lengthAdjust="spacingAndGlyphs">–</tspan><tspan>value</tspan></text>
<text transform="translate(1219.00,3044.80) scale(0.989,1)" font-size="61" text-anchor="middle" >Number of genes</text>
<text x="445.00" y="3140.10" font-size="51.3" text-anchor="start" >Base of Angiosperms</text>
<text x="445.00" y="3204.20" font-size="51.3" text-anchor="start" >Bryophytes</text>
<text x="1020.00" y="3140.10" font-size="51.3" text-anchor="start" >Land plants+Zygnematales</text>
<text x="1020.00" y="3204.20" font-size="51.3" text-anchor="start" >Land plants+Zygnematales+Coleochaetales</text>
<text x="1762.60" y="3140.10" font-size="51.3" text-anchor="start" >Coniferales</text>
</g>
<rect x="234.00" y="3298.10" width="960.90" height="69.65" fill="#333333"/>
<rect x="236.80" y="3300.70" width="955.30" height="63.55" fill="#D9D9D9"/>
<rect x="234.00" y="3364.25" width="960.90" height="1266.75" fill="#333333"/>
<rect x="236.80" y="3367.75" width="955.30" height="1261.05" fill="#FFFFFF"/>
<clipPath id="clip_c1"><rect x="236.80" y="3367.75" width="955.30" height="1261.05"/></clipPath>
<g clip-path="url(#clip_c1)">
<rect x="236.80" y="4403.53" width="955.30" height="2.20" fill="#EBEBEB"/>
<rect x="236.80" y="4070.80" width="955.30" height="2.20" fill="#EBEBEB"/>
<rect x="236.80" y="3738.07" width="955.30" height="2.20" fill="#EBEBEB"/>
<rect x="236.80" y="3405.33" width="955.30" height="2.20" fill="#EBEBEB"/>
<rect x="313.27" y="3367.75" width="2.00" height="1261.05" fill="#EBEBEB"/>
<rect x="536.93" y="3367.75" width="2.00" height="1261.05" fill="#EBEBEB"/>
<rect x="760.60" y="3367.75" width="2.00" height="1261.05" fill="#EBEBEB"/>
<rect x="984.27" y="3367.75" width="2.00" height="1261.05" fill="#EBEBEB"/>
<rect x="236.80" y="4568.80" width="955.30" height="4.40" fill="#EBEBEB"/>
<rect x="236.80" y="4236.07" width="955.30" height="4.40" fill="#EBEBEB"/>
<rect x="236.80" y="3903.33" width="955.30" height="4.40" fill="#EBEBEB"/>
<rect x="236.80" y="3570.60" width="955.30" height="4.40" fill="#EBEBEB"/>
<rect x="424.10" y="3367.75" width="4.00" height="1261.05" fill="#EBEBEB"/>
<rect x="647.77" y="3367.75" width="4.00" height="1261.05" fill="#EBEBEB"/>
<rect x="871.43" y="3367.75" width="4.00" height="1261.05" fill="#EBEBEB"/>
<rect x="1095.10" y="3367.75" width="4.00" height="1261.05" fill="#EBEBEB"/>
<g filter="url(#crisp)" shape-rendering="geometricPrecision">
<g fill="#1F78B4"><circle cx="277.6" cy="3771.2" r="7.05"/><circle cx="287.1" cy="3730.0" r="7.05"/><circle cx="296.6" cy="3726.1" r="7.05"/><circle cx="306.1" cy="3706.8" r="7.05"/><circle cx="315.6" cy="3847.8" r="7.05"/><circle cx="325.0" cy="3795.8" r="7.05"/><circle cx="334.5" cy="3912.0" r="7.05"/><circle cx="344.0" cy="3819.4" r="7.05"/><circle cx="353.5" cy="3829.5" r="7.05"/><circle cx="363.0" cy="3963.3" r="7.05"/><circle cx="372.5" cy="3922.7" r="7.05"/><circle cx="382.0" cy="3901.9" r="7.05"/><circle cx="391.5" cy="3826.5" r="7.05"/><circle cx="400.9" cy="3983.2" r="7.05"/><circle cx="410.4" cy="4024.4" r="7.05"/><circle cx="419.9" cy="3946.3" r="7.05"/><circle cx="429.4" cy="3896.0" r="7.05"/><circle cx="438.9" cy="4080.2" r="7.05"/><circle cx="448.4" cy="4020.8" r="7.05"/><circle cx="457.9" cy="4025.9" r="7.05"/><circle cx="467.4" cy="3990.6" r="7.05"/><circle cx="476.8" cy="4139.1" r="7.05"/><circle cx="486.3" cy="4069.5" r="7.05"/><circle cx="495.8" cy="4136.0" r="7.05"/><circle cx="505.3" cy="4103.8" r="7.05"/><circle cx="514.8" cy="4201.5" r="7.05"/><circle cx="524.3" cy="4045.9" r="7.05"/><circle cx="533.8" cy="4157.2" r="7.05"/><circle cx="543.3" cy="4133.2" r="7.05"/><circle cx="552.8" cy="4129.9" r="7.05"/><circle cx="562.2" cy="4194.1" r="7.05"/><circle cx="571.7" cy="4180.1" r="7.05"/><circle cx="581.2" cy="4217.2" r="7.05"/><circle cx="590.7" cy="4154.0" r="7.05"/><circle cx="600.2" cy="4145.9" r="7.05"/><circle cx="609.7" cy="4190.8" r="7.05"/><circle cx="619.2" cy="4260.1" r="7.05"/><circle cx="628.7" cy="4234.7" r="7.05"/><circle cx="638.1" cy="4272.5" r="7.05"/><circle cx="647.6" cy="4287.3" r="7.05"/><circle cx="657.1" cy="4286.7" r="7.05"/><circle cx="666.6" cy="4272.5" r="7.05"/><circle cx="676.1" cy="4304.5" r="7.05"/><circle cx="685.6" cy="4274.1" r="7.05"/><circle cx="695.1" cy="4315.7" r="7.05"/><circle cx="704.6" cy="4362.5" r="7.05"/><circle cx="714.0" cy="4318.2" r="7.05"/><circle cx="723.5" cy="4370.4" r="7.05"/><circle cx="733.0" cy="4293.1" r="7.05"/><circle cx="742.5" cy="4405.2" r="7.05"/><circle cx="752.0" cy="4361.5" r="7.05"/><circle cx="761.5" cy="4354.7" r="7.05"/><circle cx="771.0" cy="4338.2" r="7.05"/><circle cx="780.5" cy="4347.8" r="7.05"/><circle cx="790.0" cy="4368.6" r="7.05"/><circle cx="799.4" cy="4352.6" r="7.05"/><circle cx="808.9" cy="4431.3" r="7.05"/><circle cx="818.4" cy="4366.6" r="7.05"/><circle cx="827.9" cy="4363.1" r="7.05"/><circle cx="837.4" cy="4375.0" r="7.05"/><circle cx="846.9" cy="4420.2" r="7.05"/><circle cx="856.4" cy="4402.7" r="7.05"/><circle cx="865.9" cy="4425.3" r="7.05"/><circle cx="875.3" cy="4434.4" r="7.05"/><circle cx="884.8" cy="4441.3" r="7.05"/><circle cx="894.3" cy="4434.9" r="7.05"/><circle cx="903.8" cy="4424.8" r="7.05"/><circle cx="913.3" cy="4433.6" r="7.05"/><circle cx="922.8" cy="4434.2" r="7.05"/><circle cx="932.3" cy="4462.1" r="7.05"/><circle cx="941.8" cy="4460.8" r="7.05"/><circle cx="951.2" cy="4474.5" r="7.05"/><circle cx="960.7" cy="4462.8" r="7.05"/><circle cx="970.2" cy="4451.7" r="7.05"/><circle cx="979.7" cy="4451.4" r="7.05"/><circle cx="989.2" cy="4481.9" r="7.05"/><circle cx="998.7" cy="4459.8" r="7.05"/><circle cx="1008.2" cy="4492.0" r="7.05"/><circle cx="1017.7" cy="4488.2" r="7.05"/><circle cx="1027.2" cy="4489.5" r="7.05"/><circle cx="1036.6" cy="4494.6" r="7.05"/><circle cx="1046.1" cy="4472.5" r="7.05"/><circle cx="1055.6" cy="4495.8" r="7.05"/><circle cx="1065.1" cy="4490.2" r="7.05"/><circle cx="1074.6" cy="4490.8" r="7.05"/><circle cx="1084.1" cy="4500.9" r="7.05"/><circle cx="1093.6" cy="4502.2" r="7.05"/><circle cx="1103.1" cy="4517.5" r="7.05"/><circle cx="1112.5" cy="4514.5" r="7.05"/><circle cx="1122.0" cy="4513.6" r="7.05"/><circle cx="1131.5" cy="4514.5" r="7.05"/><circle cx="1141.0" cy="4516.2" r="7.05"/><circle cx="1150.5" cy="4516.7" r="7.05"/></g>
<g fill="#B2DF8A"><circle cx="277.6" cy="3538.8" r="7.05"/><circle cx="287.1" cy="3562.9" r="7.05"/><circle cx="296.6" cy="3597.7" r="7.05"/><circle cx="306.1" cy="3766.1" r="7.05"/><circle cx="315.6" cy="3614.4" r="7.05"/><circle cx="325.0" cy="3639.8" r="7.05"/><circle cx="334.5" cy="3640.3" r="7.05"/><circle cx="344.0" cy="3661.9" r="7.05"/><circle cx="353.5" cy="3612.4" r="7.05"/><circle cx="363.0" cy="3722.8" r="7.05"/><circle cx="372.5" cy="3705.0" r="7.05"/><circle cx="382.0" cy="3789.7" r="7.05"/><circle cx="391.5" cy="3817.4" r="7.05"/><circle cx="400.9" cy="3705.5" r="7.05"/><circle cx="410.4" cy="3735.5" r="7.05"/><circle cx="419.9" cy="3809.2" r="7.05"/><circle cx="429.4" cy="3764.1" r="7.05"/><circle cx="438.9" cy="3650.5" r="7.05"/><circle cx="448.4" cy="3835.6" r="7.05"/><circle cx="457.9" cy="3742.7" r="7.05"/><circle cx="467.4" cy="3908.5" r="7.05"/><circle cx="476.8" cy="3783.1" r="7.05"/><circle cx="486.3" cy="3802.4" r="7.05"/><circle cx="495.8" cy="3769.1" r="7.05"/><circle cx="505.3" cy="3885.4" r="7.05"/><circle cx="514.8" cy="3837.2" r="7.05"/><circle cx="524.3" cy="3826.5" r="7.05"/><circle cx="533.8" cy="3882.8" r="7.05"/><circle cx="543.3" cy="3922.1" r="7.05"/><circle cx="552.8" cy="3931.8" r="7.05"/><circle cx="562.2" cy="3979.0" r="7.05"/><circle cx="571.7" cy="3945.0" r="7.05"/><circle cx="581.2" cy="3912.2" r="7.05"/><circle cx="590.7" cy="3904.4" r="7.05"/><circle cx="600.2" cy="3865.5" r="7.05"/><circle cx="609.7" cy="3938.9" r="7.05"/><circle cx="619.2" cy="3915.8" r="7.05"/><circle cx="628.7" cy="3969.8" r="7.05"/><circle cx="638.1" cy="3969.3" r="7.05"/><circle cx="647.6" cy="4024.9" r="7.05"/><circle cx="657.1" cy="3985.3" r="7.05"/><circle cx="666.6" cy="4038.4" r="7.05"/><circle cx="676.1" cy="4079.5" r="7.05"/><circle cx="685.6" cy="3995.5" r="7.05"/><circle cx="695.1" cy="3985.3" r="7.05"/><circle cx="704.6" cy="4065.3" r="7.05"/><circle cx="714.0" cy="4049.0" r="7.05"/><circle cx="723.5" cy="4141.3" r="7.05"/><circle cx="733.0" cy="4078.2" r="7.05"/><circle cx="742.5" cy="4113.9" r="7.05"/><circle cx="752.0" cy="4035.3" r="7.05"/><circle cx="761.5" cy="4107.8" r="7.05"/><circle cx="771.0" cy="4014.3" r="7.05"/><circle cx="780.5" cy="4127.6" r="7.05"/><circle cx="790.0" cy="4119.7" r="7.05"/><circle cx="799.4" cy="4136.5" r="7.05"/><circle cx="808.9" cy="4093.2" r="7.05"/><circle cx="818.4" cy="4106.1" r="7.05"/><circle cx="827.9" cy="4168.3" r="7.05"/><circle cx="837.4" cy="4128.2" r="7.05"/><circle cx="846.9" cy="4159.4" r="7.05"/><circle cx="856.4" cy="4186.5" r="7.05"/><circle cx="865.9" cy="4148.5" r="7.05"/><circle cx="875.3" cy="4173.3" r="7.05"/><circle cx="884.8" cy="4202.5" r="7.05"/><circle cx="894.3" cy="4170.0" r="7.05"/><circle cx="903.8" cy="4202.5" r="7.05"/><circle cx="913.3" cy="4222.8" r="7.05"/><circle cx="922.8" cy="4199.5" r="7.05"/><circle cx="932.3" cy="4186.5" r="7.05"/><circle cx="941.8" cy="4234.0" r="7.05"/><circle cx="951.2" cy="4209.4" r="7.05"/><circle cx="960.7" cy="4251.3" r="7.05"/><circle cx="970.2" cy="4237.3" r="7.05"/><circle cx="979.7" cy="4239.3" r="7.05"/><circle cx="989.2" cy="4238.8" r="7.05"/><circle cx="998.7" cy="4271.1" r="7.05"/><circle cx="1008.2" cy="4252.0" r="7.05"/><circle cx="1017.7" cy="4225.9" r="7.05"/><circle cx="1027.2" cy="4238.1" r="7.05"/><circle cx="1036.6" cy="4278.7" r="7.05"/><circle cx="1046.1" cy="4243.1" r="7.05"/><circle cx="1055.6" cy="4293.9" r="7.05"/><circle cx="1065.1" cy="4298.2" r="7.05"/><circle cx="1074.6" cy="4277.4" r="7.05"/><circle cx="1084.1" cy="4300.2" r="7.05"/><circle cx="1093.6" cy="4296.2" r="7.05"/><circle cx="1103.1" cy="4298.2" r="7.05"/><circle cx="1112.5" cy="4305.3" r="7.05"/><circle cx="1122.0" cy="4319.7" r="7.05"/><circle cx="1131.5" cy="4326.5" r="7.05"/><circle cx="1141.0" cy="4323.1" r="7.05"/><circle cx="1150.5" cy="4331.0" r="7.05"/></g>
<g fill="#A6CEE3"><circle cx="277.6" cy="4147.7" r="7.05"/><circle cx="287.1" cy="4151.3" r="7.05"/><circle cx="296.6" cy="4167.3" r="7.05"/><circle cx="306.1" cy="4251.7" r="7.05"/><circle cx="315.6" cy="4339.5" r="7.05"/><circle cx="325.0" cy="4367.9" r="7.05"/><circle cx="334.5" cy="4334.9" r="7.05"/><circle cx="344.0" cy="4328.3" r="7.05"/><circle cx="353.5" cy="4449.4" r="7.05"/><circle cx="363.0" cy="4436.7" r="7.05"/><circle cx="372.5" cy="4464.4" r="7.05"/><circle cx="382.0" cy="4443.1" r="7.05"/><circle cx="391.5" cy="4485.0" r="7.05"/><circle cx="400.9" cy="4496.6" r="7.05"/><circle cx="410.4" cy="4503.5" r="7.05"/><circle cx="419.9" cy="4528.4" r="7.05"/><circle cx="429.4" cy="4513.1" r="7.05"/><circle cx="438.9" cy="4524.1" r="7.05"/><circle cx="448.4" cy="4516.2" r="7.05"/><circle cx="457.9" cy="4536.0" r="7.05"/><circle cx="467.4" cy="4537.8" r="7.05"/><circle cx="476.8" cy="4543.6" r="7.05"/><circle cx="486.3" cy="4553.8" r="7.05"/><circle cx="495.8" cy="4559.3" r="7.05"/><circle cx="505.3" cy="4554.8" r="7.05"/><circle cx="514.8" cy="4553.0" r="7.05"/><circle cx="524.3" cy="4557.6" r="7.05"/><circle cx="533.8" cy="4558.1" r="7.05"/><circle cx="543.3" cy="4560.2" r="7.05"/><circle cx="552.8" cy="4556.9" r="7.05"/><circle cx="562.2" cy="4563.5" r="7.05"/><circle cx="571.7" cy="4561.5" r="7.05"/><circle cx="581.2" cy="4566.1" r="7.05"/><circle cx="590.7" cy="4567.9" r="7.05"/><circle cx="600.2" cy="4568.6" r="7.05"/><circle cx="609.7" cy="4568.6" r="7.05"/><circle cx="619.2" cy="4567.9" r="7.05"/><circle cx="628.7" cy="4569.6" r="7.05"/><circle cx="638.1" cy="4570.1" r="7.05"/><circle cx="647.6" cy="4570.1" r="7.05"/><circle cx="657.1" cy="4568.1" r="7.05"/><circle cx="666.6" cy="4570.4" r="7.05"/><circle cx="676.1" cy="4571.6" r="7.05"/><circle cx="685.6" cy="4571.6" r="7.05"/><circle cx="695.1" cy="4571.6" r="7.05"/><circle cx="704.6" cy="4571.6" r="7.05"/><circle cx="714.0" cy="4571.6" r="7.05"/><circle cx="723.5" cy="4571.6" r="7.05"/><circle cx="733.0" cy="4571.6" r="7.05"/><circle cx="742.5" cy="4571.6" r="7.05"/><circle cx="752.0" cy="4571.6" r="7.05"/><circle cx="761.5" cy="4571.6" r="7.05"/><circle cx="771.0" cy="4571.6" r="7.05"/><circle cx="780.5" cy="4571.6" r="7.05"/><circle cx="790.0" cy="4571.6" r="7.05"/><circle cx="799.4" cy="4571.6" r="7.05"/><circle cx="808.9" cy="4571.6" r="7.05"/><circle cx="818.4" cy="4571.6" r="7.05"/><circle cx="827.9" cy="4571.6" r="7.05"/><circle cx="837.4" cy="4571.6" r="7.05"/><circle cx="846.9" cy="4571.6" r="7.05"/><circle cx="856.4" cy="4571.6" r="7.05"/><circle cx="865.9" cy="4571.6" r="7.05"/><circle cx="875.3" cy="4571.6" r="7.05"/><circle cx="884.8" cy="4571.6" r="7.05"/><circle cx="894.3" cy="4571.6" r="7.05"/><circle cx="903.8" cy="4571.6" r="7.05"/><circle cx="913.3" cy="4571.6" r="7.05"/><circle cx="922.8" cy="4571.6" r="7.05"/><circle cx="932.3" cy="4571.6" r="7.05"/><circle cx="941.8" cy="4571.6" r="7.05"/><circle cx="951.2" cy="4571.6" r="7.05"/><circle cx="960.7" cy="4571.6" r="7.05"/><circle cx="970.2" cy="4571.6" r="7.05"/><circle cx="979.7" cy="4571.6" r="7.05"/><circle cx="989.2" cy="4571.6" r="7.05"/><circle cx="998.7" cy="4571.6" r="7.05"/><circle cx="1008.2" cy="4571.6" r="7.05"/><circle cx="1017.7" cy="4571.6" r="7.05"/><circle cx="1027.2" cy="4571.6" r="7.05"/><circle cx="1036.6" cy="4571.6" r="7.05"/><circle cx="1046.1" cy="4571.6" r="7.05"/><circle cx="1055.6" cy="4571.6" r="7.05"/><circle cx="1065.1" cy="4571.6" r="7.05"/><circle cx="1074.6" cy="4571.6" r="7.05"/><circle cx="1084.1" cy="4571.6" r="7.05"/><circle cx="1093.6" cy="4571.6" r="7.05"/><circle cx="1103.1" cy="4571.6" r="7.05"/><circle cx="1112.5" cy="4571.6" r="7.05"/><circle cx="1122.0" cy="4571.6" r="7.05"/><circle cx="1131.5" cy="4571.6" r="7.05"/><circle cx="1141.0" cy="4571.6" r="7.05"/><circle cx="1150.5" cy="4571.6" r="7.05"/></g>
<polyline fill="none" stroke="#A6CEE3" stroke-width="7.4" stroke-linejoin="round" points="277.6,4217.8 288.6,4243.1 299.7,4267.5 310.7,4290.9 321.8,4313.4 332.8,4335.0 343.9,4355.6 354.9,4375.2 366.0,4393.8 377.0,4411.3 388.1,4427.9 399.1,4443.4 410.2,4458.0 421.2,4471.7 432.3,4484.5 443.3,4496.4 454.4,4507.6 465.4,4518.1 476.5,4527.9 487.5,4537.0 498.6,4545.5 509.6,4552.5 520.7,4557.7 531.7,4561.5 542.8,4564.2 553.8,4565.9 564.9,4567.0 575.9,4567.8 587.0,4568.6 598.0,4569.5 609.1,4570.9 620.1,4572.4 631.2,4573.2 642.2,4573.4 653.3,4573.3 664.3,4572.9 675.4,4572.4 686.4,4571.9 697.5,4571.6 708.5,4571.6 719.6,4571.9 730.6,4572.1 741.7,4572.2 752.7,4572.2 763.8,4572.1 774.8,4572.0 785.9,4571.8 796.9,4571.7 808.0,4571.6 819.0,4571.5 830.1,4571.5 841.1,4571.6 852.2,4571.6 863.2,4571.6 874.3,4571.6 885.3,4571.6 896.4,4571.5 907.4,4571.5 918.5,4571.5 929.5,4571.5 940.6,4571.5 951.6,4571.5 962.7,4571.5 973.7,4571.5 984.8,4571.5 995.8,4571.4 1006.9,4571.4 1017.9,4571.4 1029.0,4571.4 1040.0,4571.3 1051.1,4571.3 1062.1,4571.3 1073.2,4571.2 1084.2,4571.2 1095.3,4571.2 1106.3,4571.1 1117.4,4571.1 1128.4,4571.0 1139.5,4571.0 1150.5,4570.9"/>
<polyline fill="none" stroke="#1F78B4" stroke-width="7.4" stroke-linejoin="round" points="277.6,3726.3 288.6,3747.7 299.7,3768.7 310.7,3789.4 321.8,3809.8 332.8,3829.9 343.9,3849.6 354.9,3869.0 366.0,3888.0 377.0,3906.8 388.1,3925.2 399.1,3943.2 410.2,3961.0 421.2,3978.4 432.3,3995.5 443.3,4012.2 454.4,4028.7 465.4,4044.8 476.5,4060.6 487.5,4076.1 498.6,4091.3 509.6,4106.1 520.7,4120.6 531.7,4134.8 542.8,4148.6 553.8,4162.1 564.9,4175.3 575.9,4188.2 587.0,4200.8 598.0,4213.0 609.1,4224.9 620.1,4236.4 631.2,4247.5 642.2,4258.2 653.3,4268.5 664.3,4278.5 675.4,4288.2 686.4,4297.7 697.5,4307.0 708.5,4316.1 719.6,4325.0 730.6,4333.6 741.7,4341.8 752.7,4349.8 763.8,4357.4 774.8,4364.7 785.9,4371.8 796.9,4378.8 808.0,4385.5 819.0,4392.2 830.1,4398.7 841.1,4405.0 852.2,4411.0 863.2,4416.7 874.3,4422.3 885.3,4427.6 896.4,4432.8 907.4,4437.9 918.5,4442.9 929.5,4447.9 940.6,4452.8 951.6,4457.5 962.7,4462.0 973.7,4466.4 984.8,4470.6 995.8,4474.7 1006.9,4478.6 1017.9,4482.3 1029.0,4486.0 1040.0,4489.4 1051.1,4492.8 1062.1,4496.0 1073.2,4499.1 1084.2,4502.0 1095.3,4504.8 1106.3,4507.4 1117.4,4509.9 1128.4,4512.3 1139.5,4514.5 1150.5,4516.5"/>
<polyline fill="none" stroke="#B2DF8A" stroke-width="7.4" stroke-linejoin="round" points="277.6,3589.4 288.6,3603.0 299.7,3616.5 310.7,3629.9 321.8,3643.1 332.8,3656.3 343.9,3669.3 354.9,3682.3 366.0,3695.1 377.0,3707.8 388.1,3720.5 399.1,3733.0 410.2,3745.4 421.2,3757.7 432.3,3769.9 443.3,3782.0 454.4,3794.0 465.4,3805.9 476.5,3817.7 487.5,3829.4 498.6,3841.0 509.6,3852.5 520.7,3863.9 531.7,3875.2 542.8,3886.4 553.8,3897.5 564.9,3908.6 575.9,3919.5 587.0,3930.4 598.0,3941.2 609.1,3951.9 620.1,3962.6 631.2,3973.3 642.2,3983.9 653.3,3994.6 664.3,4005.1 675.4,4015.5 686.4,4025.8 697.5,4035.9 708.5,4045.7 719.6,4055.3 730.6,4064.7 741.7,4074.1 752.7,4083.3 763.8,4092.4 774.8,4101.4 785.9,4110.2 796.9,4118.8 808.0,4127.3 819.0,4135.5 830.1,4143.6 841.1,4151.5 852.2,4159.1 863.2,4166.5 874.3,4173.8 885.3,4180.9 896.4,4187.9 907.4,4194.8 918.5,4201.7 929.5,4208.6 940.6,4215.4 951.6,4222.2 962.7,4228.7 973.7,4235.2 984.8,4241.6 995.8,4247.8 1006.9,4254.0 1017.9,4260.0 1029.0,4265.9 1040.0,4271.7 1051.1,4277.5 1062.1,4283.1 1073.2,4288.6 1084.2,4294.1 1095.3,4299.4 1106.3,4304.7 1117.4,4309.8 1128.4,4314.9 1139.5,4319.8 1150.5,4324.6"/>
</g>
<rect x="236.80" y="4502.10" width="955.30" height="4.70" fill="#000000"/>
</g>
<rect x="424.10" y="4631.00" width="4.00" height="9.00" fill="#333333"/>
<rect x="647.77" y="4631.00" width="4.00" height="9.00" fill="#333333"/>
<rect x="871.43" y="4631.00" width="4.00" height="9.00" fill="#333333"/>
<rect x="1095.10" y="4631.00" width="4.00" height="9.00" fill="#333333"/>
<rect x="225.90" y="4568.80" width="8.10" height="4.40" fill="#333333"/>
<rect x="225.90" y="4236.07" width="8.10" height="4.40" fill="#333333"/>
<rect x="225.90" y="3903.33" width="8.10" height="4.40" fill="#333333"/>
<rect x="225.90" y="3570.60" width="8.10" height="4.40" fill="#333333"/>
<rect x="1210.10" y="3298.10" width="960.80" height="69.65" fill="#333333"/>
<rect x="1212.90" y="3300.70" width="956.00" height="63.55" fill="#D9D9D9"/>
<rect x="1210.10" y="3364.25" width="960.80" height="1266.75" fill="#333333"/>
<rect x="1212.90" y="3367.75" width="956.00" height="1261.05" fill="#FFFFFF"/>
<clipPath id="clip_c2"><rect x="1212.90" y="3367.75" width="956.00" height="1261.05"/></clipPath>
<g clip-path="url(#clip_c2)">
<rect x="1212.90" y="4403.53" width="956.00" height="2.20" fill="#EBEBEB"/>
<rect x="1212.90" y="4070.80" width="956.00" height="2.20" fill="#EBEBEB"/>
<rect x="1212.90" y="3738.07" width="956.00" height="2.20" fill="#EBEBEB"/>
<rect x="1212.90" y="3405.33" width="956.00" height="2.20" fill="#EBEBEB"/>
<rect x="1324.65" y="3367.75" width="2.00" height="1261.05" fill="#EBEBEB"/>
<rect x="1558.35" y="3367.75" width="2.00" height="1261.05" fill="#EBEBEB"/>
<rect x="1792.05" y="3367.75" width="2.00" height="1261.05" fill="#EBEBEB"/>
<rect x="2025.75" y="3367.75" width="2.00" height="1261.05" fill="#EBEBEB"/>
<rect x="1212.90" y="4568.80" width="956.00" height="4.40" fill="#EBEBEB"/>
<rect x="1212.90" y="4236.07" width="956.00" height="4.40" fill="#EBEBEB"/>
<rect x="1212.90" y="3903.33" width="956.00" height="4.40" fill="#EBEBEB"/>
<rect x="1212.90" y="3570.60" width="956.00" height="4.40" fill="#EBEBEB"/>
<rect x="1440.50" y="3367.75" width="4.00" height="1261.05" fill="#EBEBEB"/>
<rect x="1674.20" y="3367.75" width="4.00" height="1261.05" fill="#EBEBEB"/>
<rect x="1907.90" y="3367.75" width="4.00" height="1261.05" fill="#EBEBEB"/>
<rect x="2141.60" y="3367.75" width="4.00" height="1261.05" fill="#EBEBEB"/>
<g filter="url(#crisp)" shape-rendering="geometricPrecision">
<g fill="#1F78B4"><circle cx="1253.9" cy="3520.5" r="7.05"/><circle cx="1263.1" cy="3677.5" r="7.05"/><circle cx="1272.3" cy="3677.5" r="7.05"/><circle cx="1281.5" cy="3768.9" r="7.05"/><circle cx="1290.7" cy="3550.2" r="7.05"/><circle cx="1299.9" cy="3652.6" r="7.05"/><circle cx="1309.0" cy="3682.1" r="7.05"/><circle cx="1318.2" cy="3777.8" r="7.05"/><circle cx="1327.4" cy="3735.9" r="7.05"/><circle cx="1336.6" cy="3812.0" r="7.05"/><circle cx="1345.8" cy="3810.2" r="7.05"/><circle cx="1355.0" cy="3780.3" r="7.05"/><circle cx="1364.2" cy="3866.1" r="7.05"/><circle cx="1373.4" cy="3777.3" r="7.05"/><circle cx="1382.6" cy="3961.2" r="7.05"/><circle cx="1391.8" cy="3919.3" r="7.05"/><circle cx="1401.0" cy="3775.2" r="7.05"/><circle cx="1410.1" cy="4078.7" r="7.05"/><circle cx="1419.3" cy="3957.6" r="7.05"/><circle cx="1428.5" cy="3977.7" r="7.05"/><circle cx="1437.7" cy="3994.4" r="7.05"/><circle cx="1446.9" cy="4008.1" r="7.05"/><circle cx="1456.1" cy="4127.6" r="7.05"/><circle cx="1465.3" cy="4053.3" r="7.05"/><circle cx="1474.5" cy="4013.2" r="7.05"/><circle cx="1483.7" cy="3976.4" r="7.05"/><circle cx="1492.9" cy="4140.2" r="7.05"/><circle cx="1502.1" cy="4042.4" r="7.05"/><circle cx="1511.2" cy="4069.3" r="7.05"/><circle cx="1520.4" cy="4143.6" r="7.05"/><circle cx="1529.6" cy="4052.3" r="7.05"/><circle cx="1538.8" cy="4144.9" r="7.05"/><circle cx="1548.0" cy="4219.3" r="7.05"/><circle cx="1557.2" cy="4182.2" r="7.05"/><circle cx="1566.4" cy="4174.1" r="7.05"/><circle cx="1575.6" cy="4249.7" r="7.05"/><circle cx="1584.8" cy="4223.3" r="7.05"/><circle cx="1594.0" cy="4275.4" r="7.05"/><circle cx="1603.2" cy="4254.6" r="7.05"/><circle cx="1612.3" cy="4264.0" r="7.05"/><circle cx="1621.5" cy="4218.5" r="7.05"/><circle cx="1630.7" cy="4315.6" r="7.05"/><circle cx="1639.9" cy="4268.5" r="7.05"/><circle cx="1649.1" cy="4295.7" r="7.05"/><circle cx="1658.3" cy="4274.4" r="7.05"/><circle cx="1667.5" cy="4316.2" r="7.05"/><circle cx="1676.7" cy="4357.0" r="7.05"/><circle cx="1685.9" cy="4341.0" r="7.05"/><circle cx="1695.1" cy="4275.1" r="7.05"/><circle cx="1704.3" cy="4327.0" r="7.05"/><circle cx="1713.5" cy="4384.2" r="7.05"/><circle cx="1722.6" cy="4297.7" r="7.05"/><circle cx="1731.8" cy="4365.1" r="7.05"/><circle cx="1741.0" cy="4426.3" r="7.05"/><circle cx="1750.2" cy="4376.5" r="7.05"/><circle cx="1759.4" cy="4385.9" r="7.05"/><circle cx="1768.6" cy="4393.0" r="7.05"/><circle cx="1777.8" cy="4384.2" r="7.05"/><circle cx="1787.0" cy="4335.2" r="7.05"/><circle cx="1796.2" cy="4421.2" r="7.05"/><circle cx="1805.4" cy="4416.1" r="7.05"/><circle cx="1814.6" cy="4392.0" r="7.05"/><circle cx="1823.7" cy="4382.1" r="7.05"/><circle cx="1832.9" cy="4388.9" r="7.05"/><circle cx="1842.1" cy="4444.0" r="7.05"/><circle cx="1851.3" cy="4399.3" r="7.05"/><circle cx="1860.5" cy="4425.2" r="7.05"/><circle cx="1869.7" cy="4418.1" r="7.05"/><circle cx="1878.9" cy="4435.9" r="7.05"/><circle cx="1888.1" cy="4459.0" r="7.05"/><circle cx="1897.3" cy="4463.3" r="7.05"/><circle cx="1906.5" cy="4463.8" r="7.05"/><circle cx="1915.7" cy="4452.4" r="7.05"/><circle cx="1924.8" cy="4477.3" r="7.05"/><circle cx="1934.0" cy="4455.7" r="7.05"/><circle cx="1943.2" cy="4439.2" r="7.05"/><circle cx="1952.4" cy="4468.9" r="7.05"/><circle cx="1961.6" cy="4467.1" r="7.05"/><circle cx="1970.8" cy="4485.4" r="7.05"/><circle cx="1980.0" cy="4473.2" r="7.05"/><circle cx="1989.2" cy="4490.5" r="7.05"/><circle cx="1998.4" cy="4501.9" r="7.05"/><circle cx="2007.6" cy="4491.0" r="7.05"/><circle cx="2016.8" cy="4485.4" r="7.05"/><circle cx="2025.9" cy="4494.3" r="7.05"/><circle cx="2035.1" cy="4501.1" r="7.05"/><circle cx="2044.3" cy="4494.8" r="7.05"/><circle cx="2053.5" cy="4510.8" r="7.05"/><circle cx="2062.7" cy="4507.7" r="7.05"/><circle cx="2071.9" cy="4513.3" r="7.05"/><circle cx="2081.1" cy="4509.1" r="7.05"/><circle cx="2090.3" cy="4520.1" r="7.05"/><circle cx="2099.5" cy="4513.3" r="7.05"/><circle cx="2108.7" cy="4515.0" r="7.05"/><circle cx="2117.9" cy="4522.6" r="7.05"/><circle cx="2127.0" cy="4524.3" r="7.05"/></g>
<g fill="#B2DF8A"><circle cx="1253.9" cy="3550.5" r="7.05"/><circle cx="1263.1" cy="3473.8" r="7.05"/><circle cx="1272.3" cy="3450.7" r="7.05"/><circle cx="1281.5" cy="3498.4" r="7.05"/><circle cx="1290.7" cy="3424.3" r="7.05"/><circle cx="1299.9" cy="3461.6" r="7.05"/><circle cx="1309.0" cy="3540.8" r="7.05"/><circle cx="1318.2" cy="3463.6" r="7.05"/><circle cx="1327.4" cy="3503.0" r="7.05"/><circle cx="1336.6" cy="3516.9" r="7.05"/><circle cx="1345.8" cy="3543.6" r="7.05"/><circle cx="1355.0" cy="3565.7" r="7.05"/><circle cx="1364.2" cy="3547.9" r="7.05"/><circle cx="1373.4" cy="3661.8" r="7.05"/><circle cx="1382.6" cy="3492.8" r="7.05"/><circle cx="1391.8" cy="3574.6" r="7.05"/><circle cx="1401.0" cy="3595.6" r="7.05"/><circle cx="1410.1" cy="3575.3" r="7.05"/><circle cx="1419.3" cy="3540.3" r="7.05"/><circle cx="1428.5" cy="3549.9" r="7.05"/><circle cx="1437.7" cy="3633.7" r="7.05"/><circle cx="1446.9" cy="3598.7" r="7.05"/><circle cx="1456.1" cy="3513.1" r="7.05"/><circle cx="1465.3" cy="3579.1" r="7.05"/><circle cx="1474.5" cy="3586.7" r="7.05"/><circle cx="1483.7" cy="3635.5" r="7.05"/><circle cx="1492.9" cy="3556.8" r="7.05"/><circle cx="1502.1" cy="3611.4" r="7.05"/><circle cx="1511.2" cy="3640.3" r="7.05"/><circle cx="1520.4" cy="3591.6" r="7.05"/><circle cx="1529.6" cy="3587.8" r="7.05"/><circle cx="1538.8" cy="3575.1" r="7.05"/><circle cx="1548.0" cy="3622.5" r="7.05"/><circle cx="1557.2" cy="3733.7" r="7.05"/><circle cx="1566.4" cy="3590.0" r="7.05"/><circle cx="1575.6" cy="3602.2" r="7.05"/><circle cx="1584.8" cy="3754.7" r="7.05"/><circle cx="1594.0" cy="3559.1" r="7.05"/><circle cx="1603.2" cy="3641.6" r="7.05"/><circle cx="1612.3" cy="3677.9" r="7.05"/><circle cx="1621.5" cy="3555.0" r="7.05"/><circle cx="1630.7" cy="3682.2" r="7.05"/><circle cx="1639.9" cy="3667.5" r="7.05"/><circle cx="1649.1" cy="3560.1" r="7.05"/><circle cx="1658.3" cy="3673.0" r="7.05"/><circle cx="1667.5" cy="3591.3" r="7.05"/><circle cx="1676.7" cy="3596.6" r="7.05"/><circle cx="1685.9" cy="3599.2" r="7.05"/><circle cx="1695.1" cy="3785.6" r="7.05"/><circle cx="1704.3" cy="3711.4" r="7.05"/><circle cx="1713.5" cy="3698.2" r="7.05"/><circle cx="1722.6" cy="3761.0" r="7.05"/><circle cx="1731.8" cy="3699.2" r="7.05"/><circle cx="1741.0" cy="3624.6" r="7.05"/><circle cx="1750.2" cy="3694.9" r="7.05"/><circle cx="1759.4" cy="3684.2" r="7.05"/><circle cx="1768.6" cy="3690.6" r="7.05"/><circle cx="1777.8" cy="3759.7" r="7.05"/><circle cx="1787.0" cy="3786.2" r="7.05"/><circle cx="1796.2" cy="3724.0" r="7.05"/><circle cx="1805.4" cy="3687.2" r="7.05"/><circle cx="1814.6" cy="3708.3" r="7.05"/><circle cx="1823.7" cy="3636.4" r="7.05"/><circle cx="1832.9" cy="3784.2" r="7.05"/><circle cx="1842.1" cy="3736.2" r="7.05"/><circle cx="1851.3" cy="3742.5" r="7.05"/><circle cx="1860.5" cy="3750.7" r="7.05"/><circle cx="1869.7" cy="3787.5" r="7.05"/><circle cx="1878.9" cy="3724.5" r="7.05"/><circle cx="1888.1" cy="3755.7" r="7.05"/><circle cx="1897.3" cy="3777.0" r="7.05"/><circle cx="1906.5" cy="3747.6" r="7.05"/><circle cx="1915.7" cy="3748.4" r="7.05"/><circle cx="1924.8" cy="3842.8" r="7.05"/><circle cx="1934.0" cy="3786.9" r="7.05"/><circle cx="1943.2" cy="3779.3" r="7.05"/><circle cx="1952.4" cy="3859.6" r="7.05"/><circle cx="1961.6" cy="3780.9" r="7.05"/><circle cx="1970.8" cy="3756.7" r="7.05"/><circle cx="1980.0" cy="3807.3" r="7.05"/><circle cx="1989.2" cy="3798.9" r="7.05"/><circle cx="1998.4" cy="3862.1" r="7.05"/><circle cx="2007.6" cy="3862.6" r="7.05"/><circle cx="2016.8" cy="3819.2" r="7.05"/><circle cx="2025.9" cy="3879.4" r="7.05"/><circle cx="2035.1" cy="3851.1" r="7.05"/><circle cx="2044.3" cy="3835.6" r="7.05"/><circle cx="2053.5" cy="3857.8" r="7.05"/><circle cx="2062.7" cy="3829.2" r="7.05"/><circle cx="2071.9" cy="3847.7" r="7.05"/><circle cx="2081.1" cy="3846.4" r="7.05"/><circle cx="2090.3" cy="3865.4" r="7.05"/><circle cx="2099.5" cy="3859.1" r="7.05"/><circle cx="2108.7" cy="3861.6" r="7.05"/><circle cx="2117.9" cy="3862.1" r="7.05"/><circle cx="2127.0" cy="3876.1" r="7.05"/></g>
<g fill="#A6CEE3"><circle cx="1253.9" cy="3882.5" r="7.05"/><circle cx="1263.1" cy="3927.9" r="7.05"/><circle cx="1272.3" cy="3982.2" r="7.05"/><circle cx="1281.5" cy="4188.7" r="7.05"/><circle cx="1290.7" cy="4065.0" r="7.05"/><circle cx="1299.9" cy="4181.6" r="7.05"/><circle cx="1309.0" cy="4343.5" r="7.05"/><circle cx="1318.2" cy="4250.1" r="7.05"/><circle cx="1327.4" cy="4123.2" r="7.05"/><circle cx="1336.6" cy="4193.5" r="7.05"/><circle cx="1345.8" cy="4209.0" r="7.05"/><circle cx="1355.0" cy="4355.5" r="7.05"/><circle cx="1364.2" cy="4331.9" r="7.05"/><circle cx="1373.4" cy="4330.1" r="7.05"/><circle cx="1382.6" cy="4402.6" r="7.05"/><circle cx="1391.8" cy="4408.9" r="7.05"/><circle cx="1401.0" cy="4385.6" r="7.05"/><circle cx="1410.1" cy="4431.0" r="7.05"/><circle cx="1419.3" cy="4444.5" r="7.05"/><circle cx="1428.5" cy="4468.1" r="7.05"/><circle cx="1437.7" cy="4428.7" r="7.05"/><circle cx="1446.9" cy="4486.3" r="7.05"/><circle cx="1456.1" cy="4498.3" r="7.05"/><circle cx="1465.3" cy="4516.3" r="7.05"/><circle cx="1474.5" cy="4538.4" r="7.05"/><circle cx="1483.7" cy="4494.7" r="7.05"/><circle cx="1492.9" cy="4476.2" r="7.05"/><circle cx="1502.1" cy="4502.8" r="7.05"/><circle cx="1511.2" cy="4530.9" r="7.05"/><circle cx="1520.4" cy="4528.8" r="7.05"/><circle cx="1529.6" cy="4525.5" r="7.05"/><circle cx="1538.8" cy="4537.7" r="7.05"/><circle cx="1548.0" cy="4544.8" r="7.05"/><circle cx="1557.2" cy="4540.2" r="7.05"/><circle cx="1566.4" cy="4559.1" r="7.05"/><circle cx="1575.6" cy="4543.5" r="7.05"/><circle cx="1584.8" cy="4555.3" r="7.05"/><circle cx="1594.0" cy="4562.1" r="7.05"/><circle cx="1603.2" cy="4554.8" r="7.05"/><circle cx="1612.3" cy="4539.0" r="7.05"/><circle cx="1621.5" cy="4566.7" r="7.05"/><circle cx="1630.7" cy="4551.5" r="7.05"/><circle cx="1639.9" cy="4560.3" r="7.05"/><circle cx="1649.1" cy="4565.4" r="7.05"/><circle cx="1658.3" cy="4566.7" r="7.05"/><circle cx="1667.5" cy="4568.0" r="7.05"/><circle cx="1676.7" cy="4569.2" r="7.05"/><circle cx="1685.9" cy="4562.1" r="7.05"/><circle cx="1695.1" cy="4566.7" r="7.05"/><circle cx="1704.3" cy="4568.0" r="7.05"/><circle cx="1713.5" cy="4569.2" r="7.05"/><circle cx="1722.6" cy="4570.2" r="7.05"/><circle cx="1731.8" cy="4570.5" r="7.05"/><circle cx="1741.0" cy="4571.6" r="7.05"/><circle cx="1750.2" cy="4571.6" r="7.05"/><circle cx="1759.4" cy="4571.6" r="7.05"/><circle cx="1768.6" cy="4571.6" r="7.05"/><circle cx="1777.8" cy="4571.6" r="7.05"/><circle cx="1787.0" cy="4571.6" r="7.05"/><circle cx="1796.2" cy="4571.6" r="7.05"/><circle cx="1805.4" cy="4571.6" r="7.05"/><circle cx="1814.6" cy="4571.6" r="7.05"/><circle cx="1823.7" cy="4571.6" r="7.05"/><circle cx="1832.9" cy="4571.6" r="7.05"/><circle cx="1842.1" cy="4571.6" r="7.05"/><circle cx="1851.3" cy="4571.6" r="7.05"/><circle cx="1860.5" cy="4571.6" r="7.05"/><circle cx="1869.7" cy="4571.6" r="7.05"/><circle cx="1878.9" cy="4571.6" r="7.05"/><circle cx="1888.1" cy="4571.6" r="7.05"/><circle cx="1897.3" cy="4571.6" r="7.05"/><circle cx="1906.5" cy="4571.6" r="7.05"/><circle cx="1915.7" cy="4571.6" r="7.05"/><circle cx="1924.8" cy="4571.6" r="7.05"/><circle cx="1934.0" cy="4571.6" r="7.05"/><circle cx="1943.2" cy="4571.6" r="7.05"/><circle cx="1952.4" cy="4571.6" r="7.05"/><circle cx="1961.6" cy="4571.6" r="7.05"/><circle cx="1970.8" cy="4571.6" r="7.05"/><circle cx="1980.0" cy="4571.6" r="7.05"/><circle cx="1989.2" cy="4571.6" r="7.05"/><circle cx="1998.4" cy="4571.6" r="7.05"/><circle cx="2007.6" cy="4571.6" r="7.05"/><circle cx="2016.8" cy="4571.6" r="7.05"/><circle cx="2025.9" cy="4571.6" r="7.05"/><circle cx="2035.1" cy="4571.6" r="7.05"/><circle cx="2044.3" cy="4571.6" r="7.05"/><circle cx="2053.5" cy="4571.6" r="7.05"/><circle cx="2062.7" cy="4571.6" r="7.05"/><circle cx="2071.9" cy="4571.6" r="7.05"/><circle cx="2081.1" cy="4571.6" r="7.05"/><circle cx="2090.3" cy="4571.6" r="7.05"/><circle cx="2099.5" cy="4571.6" r="7.05"/><circle cx="2108.7" cy="4571.6" r="7.05"/><circle cx="2117.9" cy="4571.6" r="7.05"/><circle cx="2127.0" cy="4571.6" r="7.05"/></g>
<polyline fill="none" stroke="#A6CEE3" stroke-width="7.4" stroke-linejoin="round" points="1253.9,4000.8 1265.0,4036.1 1276.0,4070.2 1287.1,4103.2 1298.1,4135.0 1309.2,4165.7 1320.2,4195.1 1331.3,4223.3 1342.3,4250.3 1353.4,4276.1 1364.4,4300.5 1375.5,4323.8 1386.5,4345.9 1397.6,4366.8 1408.6,4386.7 1419.7,4405.5 1430.7,4423.4 1441.8,4440.3 1452.8,4456.3 1463.9,4471.5 1474.9,4485.3 1486.0,4497.3 1497.0,4507.7 1508.1,4516.6 1519.1,4524.3 1530.2,4531.0 1541.2,4537.1 1552.3,4542.7 1563.4,4548.0 1574.4,4553.4 1585.5,4558.2 1596.5,4561.6 1607.6,4563.8 1618.6,4565.1 1629.7,4565.7 1640.7,4565.9 1651.8,4566.0 1662.8,4566.2 1673.9,4566.8 1684.9,4568.0 1696.0,4569.4 1707.0,4570.4 1718.1,4571.0 1729.1,4571.4 1740.2,4571.5 1751.2,4571.4 1762.3,4571.4 1773.3,4571.3 1784.4,4571.4 1795.4,4571.7 1806.5,4572.1 1817.5,4572.4 1828.6,4572.6 1839.7,4572.7 1850.7,4572.7 1861.8,4572.8 1872.8,4572.8 1883.9,4572.8 1894.9,4572.8 1906.0,4572.8 1917.0,4572.9 1928.1,4572.9 1939.1,4572.9 1950.2,4572.9 1961.2,4572.8 1972.3,4572.7 1983.3,4572.6 1994.4,4572.4 2005.4,4572.3 2016.5,4572.1 2027.5,4571.9 2038.6,4571.7 2049.6,4571.5 2060.7,4571.2 2071.7,4571.0 2082.8,4570.7 2093.8,4570.4 2104.9,4570.1 2115.9,4569.8 2127.0,4569.4"/>
<polyline fill="none" stroke="#1F78B4" stroke-width="7.4" stroke-linejoin="round" points="1253.9,3584.8 1265.0,3612.7 1276.0,3640.1 1287.1,3667.0 1298.1,3693.5 1309.2,3719.5 1320.2,3745.1 1331.3,3770.2 1342.3,3794.8 1353.4,3819.0 1364.4,3842.7 1375.5,3865.9 1386.5,3888.7 1397.6,3911.1 1408.6,3932.9 1419.7,3954.3 1430.7,3975.3 1441.8,3995.7 1452.8,4015.7 1463.9,4035.2 1474.9,4054.3 1486.0,4072.8 1497.0,4091.0 1508.1,4108.7 1519.1,4125.9 1530.2,4142.6 1541.2,4158.9 1552.3,4174.6 1563.4,4189.9 1574.4,4204.6 1585.5,4218.7 1596.5,4232.3 1607.6,4245.2 1618.6,4257.5 1629.7,4269.4 1640.7,4280.9 1651.8,4291.9 1662.8,4302.6 1673.9,4313.0 1684.9,4323.1 1696.0,4332.7 1707.0,4341.5 1718.1,4349.5 1729.1,4356.9 1740.2,4363.9 1751.2,4370.5 1762.3,4377.0 1773.3,4383.3 1784.4,4389.7 1795.4,4396.2 1806.5,4402.8 1817.5,4409.0 1828.6,4414.9 1839.7,4420.6 1850.7,4426.1 1861.8,4431.4 1872.8,4436.6 1883.9,4441.7 1894.9,4446.7 1906.0,4451.7 1917.0,4456.6 1928.1,4461.4 1939.1,4465.9 1950.2,4470.3 1961.2,4474.6 1972.3,4478.6 1983.3,4482.6 1994.4,4486.4 2005.4,4490.0 2016.5,4493.6 2027.5,4497.0 2038.6,4500.2 2049.6,4503.4 2060.7,4506.4 2071.7,4509.2 2082.8,4511.9 2093.8,4514.5 2104.9,4516.9 2115.9,4519.2 2127.0,4521.4"/>
<polyline fill="none" stroke="#B2DF8A" stroke-width="7.4" stroke-linejoin="round" points="1253.9,3476.3 1265.0,3483.0 1276.0,3489.6 1287.1,3496.0 1298.1,3502.3 1309.2,3508.6 1320.2,3514.7 1331.3,3520.7 1342.3,3526.5 1353.4,3532.3 1364.4,3537.9 1375.5,3543.4 1386.5,3548.8 1397.6,3554.1 1408.6,3559.3 1419.7,3564.4 1430.7,3569.4 1441.8,3574.4 1452.8,3579.3 1463.9,3584.2 1474.9,3589.0 1486.0,3593.4 1497.0,3597.6 1508.1,3601.6 1519.1,3605.5 1530.2,3609.3 1541.2,3613.0 1552.3,3616.9 1563.4,3620.8 1574.4,3624.8 1585.5,3629.0 1596.5,3633.1 1607.6,3637.2 1618.6,3641.2 1629.7,3645.3 1640.7,3649.4 1651.8,3653.6 1662.8,3657.8 1673.9,3662.2 1684.9,3666.7 1696.0,3671.3 1707.0,3676.0 1718.1,3680.8 1729.1,3685.6 1740.2,3690.5 1751.2,3695.5 1762.3,3700.5 1773.3,3705.6 1784.4,3710.8 1795.4,3716.1 1806.5,3721.5 1817.5,3727.1 1828.6,3732.9 1839.7,3738.7 1850.7,3744.6 1861.8,3750.5 1872.8,3756.4 1883.9,3762.1 1894.9,3767.8 1906.0,3773.3 1917.0,3778.7 1928.1,3784.1 1939.1,3789.5 1950.2,3794.9 1961.2,3800.3 1972.3,3805.7 1983.3,3811.0 1994.4,3816.4 2005.4,3821.7 2016.5,3827.0 2027.5,3832.3 2038.6,3837.5 2049.6,3842.7 2060.7,3847.8 2071.7,3853.0 2082.8,3858.1 2093.8,3863.1 2104.9,3868.2 2115.9,3873.2 2127.0,3878.2"/>
</g>
<rect x="1212.90" y="4502.10" width="956.00" height="4.70" fill="#000000"/>
</g>
<rect x="1440.50" y="4631.00" width="4.00" height="9.00" fill="#333333"/>
<rect x="1674.20" y="4631.00" width="4.00" height="9.00" fill="#333333"/>
<rect x="1907.90" y="4631.00" width="4.00" height="9.00" fill="#333333"/>
<rect x="2141.60" y="4631.00" width="4.00" height="9.00" fill="#333333"/>
<g filter="url(#crisp)" shape-rendering="geometricPrecision">
<rect x="613.30" y="4820.80" width="52.80" height="8.40" fill="#A6CEE3"/>
<ellipse cx="638.90" cy="4825.30" rx="7.9" ry="8.5" fill="#A6CEE3"/>
</g>
<g filter="url(#crisp)" shape-rendering="geometricPrecision">
<rect x="941.70" y="4820.80" width="52.80" height="8.40" fill="#1F78B4"/>
<ellipse cx="967.30" cy="4825.30" rx="7.9" ry="8.5" fill="#1F78B4"/>
</g>
<g filter="url(#crisp)" shape-rendering="geometricPrecision">
<rect x="1358.90" y="4820.80" width="52.80" height="8.40" fill="#B2DF8A"/>
<ellipse cx="1384.50" cy="4825.30" rx="7.9" ry="8.5" fill="#B2DF8A"/>
</g>
<g filter="url(#crisp)">
<text x="28.60" y="3346.50" font-size="72" text-anchor="start" >c)</text>
<text transform="translate(714.95,3349.05) scale(0.985,1)" font-size="49" text-anchor="middle" >Xenoturbella (Cannon et. al.)</text>
<text transform="translate(426.10,4697.60) scale(0.97,1)" font-size="62" text-anchor="middle" >50</text>
<text transform="translate(649.77,4697.60) scale(0.97,1)" font-size="62" text-anchor="middle" >100</text>
<text transform="translate(873.43,4697.60) scale(0.97,1)" font-size="62" text-anchor="middle" >150</text>
<text transform="translate(1097.10,4697.60) scale(0.97,1)" font-size="62" text-anchor="middle" >200</text>
<text transform="translate(219.40,4593.40) scale(0.97,1)" font-size="62" text-anchor="end" >0.00</text>
<text transform="translate(219.40,4260.67) scale(0.97,1)" font-size="62" text-anchor="end" >0.25</text>
<text transform="translate(219.40,3927.93) scale(0.97,1)" font-size="62" text-anchor="end" >0.50</text>
<text transform="translate(219.40,3595.20) scale(0.97,1)" font-size="62" text-anchor="end" >0.75</text>
<text transform="translate(1691.00,3349.05) scale(0.985,1)" font-size="49" text-anchor="middle" >Xenoturbella (Rouse et. al.)</text>
<text transform="translate(1442.50,4697.60) scale(0.97,1)" font-size="62" text-anchor="middle" >100</text>
<text transform="translate(1676.20,4697.60) scale(0.97,1)" font-size="62" text-anchor="middle" >200</text>
<text transform="translate(1909.90,4697.60) scale(0.97,1)" font-size="62" text-anchor="middle" >300</text>
<text transform="translate(2143.60,4697.60) scale(0.97,1)" font-size="62" text-anchor="middle" >400</text>
<text transform="translate(82.20,3990.60) rotate(-90) scale(0.98,1)" font-size="66" text-anchor="middle"><tspan font-style="italic">p</tspan><tspan textLength="33" lengthAdjust="spacingAndGlyphs">–</tspan><tspan>value</tspan></text>
<text transform="translate(1202.50,4757.40) scale(0.989,1)" font-size="61" text-anchor="middle" >Number of genes</text>
<text x="738.80" y="4843.80" font-size="51.6" text-anchor="start" >Bilateria</text>
<text x="1007.60" y="4843.80" font-size="51.6" text-anchor="start" >Deuterostomia</text>
<text x="1425.30" y="4843.80" font-size="51.6" text-anchor="start" >Nephrozoa</text>
</g>
</svg>
</body></html>
